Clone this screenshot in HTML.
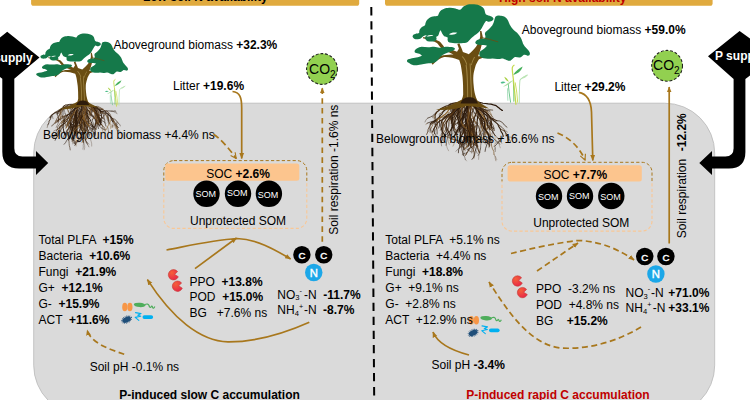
<!DOCTYPE html>
<html><head><meta charset="utf-8"><title>P supply diagram</title>
<style>
html,body{margin:0;padding:0;background:#fff;}
body{width:750px;height:400px;overflow:hidden;}
svg{display:block;}
text{font-family:'Liberation Sans',sans-serif; white-space:pre;}
</style></head><body>
<svg width="750" height="400" viewBox="0 0 750 400">
<defs>
<marker id="ah" viewBox="0 0 10 10" refX="9" refY="5" markerWidth="6" markerHeight="6" orient="auto-start-reverse" markerUnits="userSpaceOnUse"><path d="M0 1 L10 5 L0 9 z" fill="#A8771C"/></marker>
<marker id="aho" viewBox="0 0 10 10" refX="9" refY="5" markerWidth="7" markerHeight="7" orient="auto-start-reverse" markerUnits="userSpaceOnUse"><path d="M1 1 L9 5 L1 9" fill="none" stroke="#A8771C" stroke-width="1.6"/></marker>
<radialGradient id="pac" cx="35%" cy="30%" r="80%"><stop offset="0" stop-color="#F5603A"/><stop offset="1" stop-color="#E6234A"/></radialGradient>
<clipPath id="cT"><rect x="0" y="0" width="750" height="181.5"/></clipPath>
<clipPath id="cB"><rect x="0" y="181.5" width="750" height="221"/></clipPath>

<g id="tree">
<path fill="#6A4D12" d="M222 400 C234 392 240 381 241 368 L240.5 335 C240 318 239 308 238 300 C236 285 234 272 232 262 C230 254 228 249 226 244 C206 236 186 232 167 233.5 C156 236 148 242 141 247.5 L127 261 L123 255 L137 241 C146 233 156 228 167 227 C180 225 194 224 205 224 C192 218 178 213 165 207 C157 200 151 192 146 185 C140 180 132 176 124 174 L91 165.5 L92 161 L126 167 C136 170 146 173 153 177 C160 183 165 190 170 197 C186 202 202 208 218 214 C220 210 223 206 225 203 C223 197 221 191 219 186 L227 183 C229 189 232 195 234 200 C236 205 238 210 240 215 C246 217 254 220 261.5 223 C272 214 282 205 289.5 195 C297 184 302 172 304.5 160 L304 139 L309 139 L314 160 C314 172 312 184 308.4 195 C305 208 301 220 296.5 230 L317.5 229 L322 233 L300 241 C295 248 291 256 288 262 C284 275 280 288 279 300 C278 312 279 324 280 335 C281 348 283 360 286 370 C289 383 295 393 303 400 Z"/>
<path fill="#A08646" d="M250 262 C254 290 256 330 256 385 L259.5 385 C260 330 258 290 254 262 Z M265 256 C267 296 269 340 271 385 L274 385 C273 340 271 296 268.5 256Z M236 232 C244 240 250 250 253 262 L256 260 C253 248 247 238 239 230Z M282 232 C276 242 272 252 270 262 L273 263 C275 253 279 243 285 234Z"/>
<path fill="#2E1C0C" d="M231 400 C235 385 250 378 264 378 C279 378 291 385 296 400 Z"/>
<path fill="#15794A" d="M52 158 C54 152 58 151 62 150 C68 148 74 150 77 146 C76 138 80 132 84 128 C90 122 96 122 99 118 C100 108 104 100 110 96 C116 90 122 88 128 87 C136 85 142 86 147 84 C150 76 154 68 160 64 C168 58 176 56 184 56 C194 55 204 56 212 58 C220 60 226 64 232 62 C236 56 242 50 248 48 C258 43 266 42 274 43 C284 43 294 44 302 47 C310 50 316 54 319 60 C322 66 322 74 326 80 C332 84 338 83 344 86 C350 88 355 92 354 97 C352 103 344 106 336 106 C332 105 328 102 326 103 C322 108 318 114 315 120 C312 126 308 132 305 137 C300 144 292 150 284 155 C278 160 274 163 270 166 C266 170 262 175 258 179 C250 183 242 183 235 183 C226 184 218 183 210 183 C200 183 190 182 185 178 C182 172 182 168 184 164 C180 160 174 160 170 158 C165 154 161 146 157 137 C153 140 151 148 149 154 C147 158 143 159 140 161 C143 166 142 172 138 174 C130 178 118 178 108 176 C102 174 98 168 99 162 C100 158 104 156 106 155 C100 155 96 156 92 158 C88 162 82 167 77 168 C70 169 64 169 60 168 C56 166 52 162 52 158 Z"/>
<path fill="#15794A" d="M361 88 C366 84 372 83 378 84 C384 84 390 85 394 87 C400 90 404 94 406 98 C410 104 412 110 414 115 C418 122 422 128 426 132 C432 138 438 142 442 146 C448 152 452 158 456 164 C460 172 462 178 464 184 C468 192 474 198 478 202 C484 208 490 214 490 220 C490 226 486 229 481 228 C476 226 470 224 466 226 C462 230 458 234 452 235 C446 236 440 232 434 233 C428 236 424 243 417 246 C410 248 404 244 399 242 C394 240 390 238 385 238 C379 239 374 241 368 240 C362 239 356 238 350 238 C344 238 338 240 332 239 C322 238 310 237 304 231 C299 224 300 216 306 211 C314 206 324 200 330 192 C322 190 312 190 304 190 C296 190 288 188 286 182 C286 176 292 172 298 170 C306 167 314 166 320 166 C326 164 324 156 322 151 C322 146 324 142 328 140 C334 136 338 132 342 128 C348 122 352 116 354 110 C357 104 358 94 361 88 Z"/>
<path fill="#15794A" d="M60 210 C62 206 64 204 68 202 C74 198 80 196 86 196 C94 196 102 198 110 198 C118 198 124 196 132 196 C140 196 146 199 152 200 C160 200 168 196 176 196 C186 196 196 197 203 198 C208 200 211 202 210 205 C204 212 192 214 182 218 C176 221 170 223 164 226 C158 230 154 235 150 239 C146 246 140 250 133 253 C124 256 114 256 105 256 C98 257 90 259 84 260 C76 262 70 263 63 263 C54 262 46 260 42 256 C36 252 30 250 31 246 C33 241 38 240 44 239 C52 238 60 236 66 235 C74 233 82 231 87 228 C84 224 80 222 77 221 C72 220 66 220 63 218 C60 216 59 213 60 210 Z"/>
<path fill="#fff" d="M188 151 C196 145 208 143 219 146 C212 152 199 155 188 151Z M104 158 C112 154 122 153 130 155 C124 158 112 160 104 158Z"/>
<path fill="none" stroke="#6A4D12" stroke-width="3" stroke-linecap="round" d="M311 163 C330 167 350 172 370 178"/>
</g>
<g id="sprout" fill="none" stroke-linecap="round">
<path d="M105 335 C103 300 102 280 103 255" stroke="#9AD8B0" stroke-width="6"/>
<path d="M125 348 C118 310 112 270 108 222" stroke="#6CC78C" stroke-width="7"/>
<path d="M190 352 C190 300 190 250 195 198 C200 184 225 176 250 162" stroke="#B2DFAE" stroke-width="7"/>
<path d="M178 348 C176 310 170 260 160 215" stroke="#C8DC5A" stroke-width="7"/>
<path d="M150 342 C151 300 150 250 145 200" stroke="#5CBF60" stroke-width="7"/>
<path d="M165 362 C160 310 152 250 147 200 C143 165 136 125 138 112 C140 102 145 98 151 95" stroke="#C3D94C" stroke-width="9"/>
<path d="M145 160 C160 135 190 115 215 103 C205 135 175 155 145 160Z" fill="#45B05A" stroke="none"/>
<path d="M50 214 C60 205 75 205 88 212 C75 222 60 222 50 214Z" fill="#4DBD8A" stroke="none"/>
<path d="M78 174 C92 178 104 192 112 208 C96 204 84 190 78 174Z" fill="#A8D040" stroke="none"/>
<path d="M68 242 C90 225 115 208 142 198 C125 220 95 236 68 242Z" fill="#A9DDA0" stroke="none"/>
<path d="M205 185 C218 172 236 168 252 160 C244 178 224 188 205 185Z" fill="#BDE5B5" stroke="none"/>
</g>
</defs>

<path d="M31.1 0 H359.2 V3.2 Q359.2 5.75 356.7 5.75 H33.6 Q31.1 5.75 31.1 3.2 Z" fill="#E0AA3E"/>
<path d="M385 0 H712.6 V3.2 Q712.6 5.75 710.1 5.75 H387.5 Q385 5.75 385 3.2 Z" fill="#E0AA3E"/>
<text x="205.3" y="1.2" font-size="12" text-anchor="middle" fill="#000" font-weight="bold">Low soil N availability</text>
<text x="562.7" y="1.6" font-size="12" text-anchor="middle" fill="#C00000" font-weight="bold">High soil N availability</text>
<rect x="33.7" y="103.2" width="681" height="312" rx="50" ry="50" fill="#DADADA" stroke="#B9B9B9" stroke-width="0.8"/>
<use href="#sprout" transform="translate(100,70) scale(0.1)"/>
<use href="#sprout" transform="translate(493.8,51.4) scale(0.134,0.146)"/>
<g id="rootsL"><g fill="none" stroke-linecap="round" stroke-linejoin="round"><path d="M70.7 108.3L70.8 108.8L70.7 109.4L70.6 110.0M63.2 120.2L63.9 121.5L64.4 122.9L65.2 124.2M71.6 124.0L71.0 124.7L70.5 125.3L70.2 126.2M71.1 126.4L70.7 127.3L70.4 128.2L70.3 129.2M58.5 111.4L57.7 111.9L57.1 112.7L56.6 113.5M62.9 117.6L63.1 118.2L63.1 118.8L63.3 119.3M70.3 114.3L71.0 115.4L71.5 116.5L72.1 117.6M67.6 115.8L68.0 116.2L68.4 116.6L68.9 116.9M60.7 119.3L60.9 120.3L61.4 121.2L61.9 122.0M75.4 141.5L75.5 142.2L75.4 143.0L75.5 143.8M65.8 125.2L66.1 125.7L66.5 126.2L66.9 126.7M72.0 127.5L71.9 128.2L71.8 128.9L71.9 129.7M77.3 131.2L77.5 131.6L77.7 132.0L77.9 132.4M83.3 123.7L84.0 124.5L84.9 125.0L85.9 125.4M71.5 131.0L71.1 131.3L70.7 131.6L70.3 131.9M85.1 118.1L85.2 118.4L85.4 118.7L85.5 118.9M79.0 120.8L79.2 121.9L79.1 122.9L78.9 123.9M90.7 123.6L91.1 124.6L91.3 125.6L91.1 126.6M82.6 128.6L83.3 129.0L84.1 129.2L84.7 129.7M81.4 123.5L81.4 124.2L81.2 124.9L80.8 125.6M108.4 113.9L108.3 114.5L108.1 115.1L107.7 115.6M108.6 131.5L108.6 131.9L108.8 132.3L109.0 132.6M92.5 111.1L92.2 111.6L91.8 112.1L91.5 112.6M86.8 114.9L86.7 115.4L86.7 115.8L86.6 116.3M75.9 133.2L75.1 135.3L73.8 137.3L73.1 139.5L71.8 141.5M84.1 129.7L86.1 131.1L88.4 131.9L90.2 133.4L91.6 135.3L93.5 136.8" stroke="#34200E" stroke-width="0.3"/>
<path d="M71.3 104.8L70.9 106.5L70.7 108.3L70.0 109.9M73.4 119.6L72.7 121.9L71.6 124.0L71.1 126.4M64.1 108.6L64.5 110.9L65.0 113.3L66.1 115.4L67.6 117.3M52.2 114.4L52.5 115.7L52.6 117.2L53.0 118.5M73.2 113.7L71.5 115.2L70.4 117.2L69.9 119.5L70.1 121.7L69.7 124.0M55.4 122.9L54.2 123.7L52.9 124.4L52.1 125.5M69.8 131.3L69.2 132.0L68.8 132.7L68.8 133.6M71.0 119.5L71.5 120.4L72.1 121.1L73.0 121.7M72.0 124.7L72.1 126.1L72.0 127.5L72.1 128.8M77.5 113.7L76.9 114.8L76.6 116.1L76.1 117.2M81.6 117.1L81.8 117.8L81.9 118.5L82.2 119.1M79.0 122.1L78.8 124.3L78.0 126.3L77.1 128.3L75.7 130.0M80.2 120.2L81.7 121.7L82.7 123.5L83.7 125.4M80.4 116.9L79.4 118.8L79.0 120.8L79.0 123.0M82.1 111.7L81.7 112.6L81.4 113.6L81.4 114.7M89.9 127.6L91.0 128.7L91.6 130.2L92.4 131.6M82.0 130.6L82.5 131.7L83.0 132.7L83.7 133.7M85.8 122.5L87.2 124.4L88.8 126.1L89.6 128.3L90.5 130.4M85.6 140.7L86.6 141.8L87.2 143.0L87.7 144.4M78.4 140.1L76.8 140.9L75.5 142.2L74.6 143.8M81.4 115.2L81.9 115.8L82.4 116.3L82.9 116.9M73.0 137.1L73.3 138.0L73.6 138.9L73.9 139.8M94.0 127.0L94.7 128.0L95.5 128.7L96.4 129.3M92.5 129.4L92.9 130.9L93.3 132.4L93.6 133.9M99.9 120.3L100.6 121.2L101.2 122.1L102.0 122.9M117.2 122.1L116.7 123.1L116.4 124.2L115.8 125.2M118.7 123.4L119.5 124.1L120.0 125.0L120.3 125.9M92.2 106.8L94.3 107.9L95.6 109.8L96.3 112.0M90.0 110.6L89.7 111.5L89.5 112.4L89.1 113.3M92.0 107.7L91.3 108.9L91.0 110.3L90.8 111.7M107.7 117.4L107.5 118.4L107.4 119.4L107.6 120.5M94.7 117.6L93.8 118.5L92.6 119.2L91.8 120.2" stroke="#2A180B" stroke-width="0.4"/>
<path d="M65.3 106.8L64.1 107.4L63.1 108.1L62.0 108.8M63.1 110.3L62.1 112.0L60.8 113.4L59.8 115.0M48.8 123.1L48.1 124.6L47.5 126.0L47.2 127.5M85.4 126.0L84.7 128.2L83.7 130.2L82.8 132.4M86.5 127.9L85.2 129.4L84.5 131.3L84.0 133.2M71.0 137.5L72.6 138.6L73.9 140.1L75.4 141.5M66.6 132.8L67.3 133.7L67.9 134.6L68.8 135.4M72.9 139.8L73.5 140.5L74.2 141.1L74.6 141.9M77.5 115.8L78.2 116.6L78.8 117.4L79.3 118.3M78.1 119.9L77.2 120.4L76.5 121.1L75.9 121.9M76.5 128.9L76.6 129.7L76.5 130.5L76.3 131.3M75.2 118.9L74.4 119.7L74.0 120.7L73.8 121.8M83.3 128.4L84.2 129.1L84.7 130.1L85.3 131.0M71.5 124.0L71.5 124.9L71.6 125.8L71.7 126.6M72.2 130.3L71.5 131.0L71.1 131.9L70.9 132.8M81.2 111.9L81.9 112.9L82.4 114.1L82.7 115.2M77.4 123.0L76.9 123.8L76.5 124.7L76.2 125.6M85.3 131.2L84.6 132.3L83.7 133.3L83.2 134.5M85.3 113.8L83.5 115.2L81.7 116.7L79.6 117.9L77.9 119.5M81.6 127.7L80.7 128.9L80.0 130.2L79.7 131.6M77.3 141.9L76.2 142.3L75.4 143.0L74.8 143.9M81.8 113.2L82.4 114.3L83.2 115.2L83.6 116.4M85.9 113.3L85.0 115.0L83.6 116.5L82.0 117.6M91.5 114.5L93.4 115.5L95.4 116.3L97.3 117.4M95.9 119.0L96.0 121.0L95.4 123.0L94.7 125.0M95.0 131.7L94.4 133.3L94.2 134.9L94.0 136.6M101.0 120.1L100.4 120.5L99.7 120.7L99.1 120.9M94.0 106.6L95.9 107.4L97.7 108.5L99.5 109.4L101.0 110.9M93.5 106.7L95.8 107.2L98.2 107.6L100.2 108.9M107.5 126.9L108.1 128.4L108.2 130.0L108.6 131.5M90.1 108.4L91.3 110.0L92.9 111.3L94.7 112.2M96.0 123.0L95.9 124.2L96.1 125.3L96.7 126.3M100.6 120.2L100.5 121.0L100.3 121.8L100.0 122.5" stroke="#3E2611" stroke-width="0.4"/>
<path d="M73.4 104.3L71.3 104.8L69.1 105.0L67.1 105.7L65.3 106.8L63.7 108.2M67.3 104.9L67.0 107.1L67.5 109.3L68.5 111.3L70.1 112.9M62.2 124.9L60.1 126.3L58.7 128.4L56.9 130.1M69.5 113.9L67.6 114.4L65.9 115.6L64.7 117.2L63.9 119.1L63.3 121.0M68.3 139.2L69.0 141.3L69.1 143.4L69.3 145.6L69.9 147.7L70.2 149.9M70.6 125.4L69.1 126.9L68.4 128.9L67.3 130.8L66.6 132.8L65.8 134.8M72.8 128.9L71.9 130.9L71.8 133.2L71.9 135.4L72.6 137.6L72.9 139.8M75.7 113.8L76.8 115.6L77.7 117.5L78.4 119.6M73.4 121.4L71.8 122.8L70.4 124.3L69.7 126.3L68.9 128.2L67.8 130.0M75.6 112.5L75.0 114.7L75.3 117.0L75.5 119.3L76.0 121.6L76.4 123.8M68.0 124.5L69.0 126.4L70.3 128.1L72.0 129.5M79.6 108.3L80.0 110.6L81.0 112.6L81.2 114.9L81.6 117.1M80.6 109.6L81.2 111.9L82.0 114.1L82.9 116.4L83.7 118.7M78.9 119.8L77.3 121.5L76.2 123.3L75.7 125.5L76.0 127.7L76.9 129.7M76.9 123.6L77.3 125.6L77.1 127.7L76.9 129.7L77.3 131.7L78.0 133.7M83.1 106.0L84.7 107.4L85.9 109.2L86.6 111.2L86.9 113.4L87.5 115.4L87.8 117.6L87.6 119.7L86.9 121.8L86.8 123.9M81.2 118.2L81.2 120.4L80.9 122.7L81.2 125.0L80.8 127.2L81.1 129.5M82.8 117.6L83.3 119.7L83.8 121.9L84.9 123.8L86.2 125.5L87.2 127.5L87.5 129.7M87.8 116.4L86.7 118.3L85.5 120.1L83.9 121.6L82.8 123.5L81.9 125.5M110.7 117.4L112.5 118.4L114.4 119.1L116.1 120.3L117.2 122.1L118.7 123.4M91.0 105.1L92.2 106.8L93.1 108.6L94.5 110.1L95.7 111.7L96.4 113.5L97.3 115.4L98.7 116.8L100.2 118.2M99.9 122.6L101.4 124.2L102.4 126.1L103.2 128.2M91.0 105.8L92.0 107.7L93.5 109.2L95.3 110.3L96.7 111.9L98.0 113.7L98.9 115.6" stroke="#3E2611" stroke-width="0.6"/>
<path d="M68.2 111.4L68.3 111.9L68.4 112.4L68.6 112.9M65.0 113.3L65.8 114.8L66.4 116.3L67.0 117.9M57.3 120.2L57.3 120.9L57.4 121.5L57.6 122.2M85.2 129.4L84.2 130.0L83.2 130.4L82.1 130.7M73.1 142.9L72.9 143.2L72.8 143.5L72.7 143.9M75.3 113.5L74.9 113.9L74.4 114.3L73.9 114.6M75.3 115.3L75.7 115.6L76.0 115.9L76.4 116.1M67.9 134.6L67.9 135.1L67.9 135.6L67.9 136.1M75.9 121.9L76.1 122.3L76.3 122.6L76.5 123.0M77.1 117.6L77.5 118.0L77.8 118.5L78.1 119.0M84.2 129.1L84.0 129.5L83.7 129.8L83.4 130.1M89.1 111.1L89.4 111.9L89.5 112.8L89.5 113.8M71.1 131.9L71.2 132.2L71.2 132.5L71.2 132.8M73.8 130.8L73.6 131.8L73.5 132.7L73.3 133.6M83.7 125.4L83.9 126.0L83.9 126.7L83.7 127.4M76.5 124.7L76.3 124.8L76.1 125.0L75.9 125.2M89.6 128.3L89.1 129.7L88.5 131.0L87.8 132.3M86.6 117.9L87.3 118.9L88.1 119.8L89.1 120.6M87.6 124.4L88.0 125.3L88.1 126.3L88.2 127.3M82.4 114.3L82.3 114.9L82.3 115.5L82.4 116.1M73.9 139.8L74.0 140.0L74.1 140.3L74.1 140.6M97.4 122.6L97.1 122.7L96.7 122.8L96.3 123.0M92.9 130.9L93.2 131.4L93.5 131.8L93.6 132.2M93.3 132.4L93.2 133.2L93.2 133.9L93.3 134.7M101.1 113.7L101.1 114.1L101.2 114.6L101.4 115.0M99.5 109.4L99.7 110.5L99.9 111.5L100.2 112.4M92.1 109.8L92.4 110.5L92.5 111.2L92.6 112.0M89.7 111.5L89.8 111.9L89.9 112.4L90.0 112.9M99.0 116.8L99.0 117.4L99.0 118.0L98.9 118.6M67.1 121.4L68.6 123.1L69.4 125.3L69.7 127.6L70.4 129.7M93.1 127.4L91.3 128.9L89.4 130.0L87.7 131.6L86.4 133.5M83.6 141.2L83.7 143.2L83.2 145.1L83.3 147.1L82.9 149.1M83.9 125.9L83.9 127.9L83.6 130.0L82.9 131.9L81.6 133.5" stroke="#2A180B" stroke-width="0.3"/>
<path d="M67.5 109.3L68.0 110.3L68.2 111.4L68.6 112.5M60.1 111.0L60.3 111.6L60.7 112.2L60.8 112.8M67.6 114.4L67.6 115.8L67.1 117.2L66.6 118.5M62.1 121.2L62.0 122.8L61.7 124.5L62.1 126.1M75.7 126.7L76.0 127.8L76.4 128.7L76.6 129.7M84.9 109.2L87.2 109.6L89.1 111.1L90.3 113.0M81.2 114.9L81.0 116.0L81.0 117.2L81.3 118.3M75.9 125.1L73.9 126.3L72.4 128.1L70.5 129.6M81.4 122.3L81.8 123.2L82.5 124.0L83.3 124.7M101.3 127.9L102.4 129.4L102.8 131.2L103.6 132.9M104.9 129.9L105.0 131.2L105.0 132.4L105.1 133.6M79.2 131.0L78.4 132.2L77.7 133.5L76.8 134.6M95.0 108.1L94.8 109.2L94.3 110.2L93.7 111.0M116.4 125.7L116.9 126.8L117.1 128.0L117.0 129.3M108.9 121.8L110.2 123.6L111.7 125.3L112.7 127.4M109.7 123.3L110.1 125.1L110.6 126.9L110.7 128.7M117.0 126.0L117.1 126.8L117.1 127.5L116.8 128.2" stroke="#8C6229" stroke-width="0.4"/>
<path d="M65.3 105.1L63.8 107.3L61.8 109.0L60.0 111.0M69.5 115.1L70.8 116.6L72.4 117.9L73.4 119.6L74.1 121.5L74.9 123.4L76.1 125.1L77.1 126.8M60.4 126.1L59.6 128.2L58.8 130.3L58.2 132.5L57.5 134.6L57.1 136.8M70.5 117.0L68.9 118.3L67.0 119.3L65.3 120.5L63.6 121.8L61.8 122.8M69.9 123.1L70.7 125.5L71.9 127.7L72.5 130.2M79.7 105.4L81.2 106.9L83.0 108.2L84.9 109.2L86.8 110.2L88.8 111.2L90.5 112.6L92.2 113.9M74.6 111.3L74.6 113.5L74.2 115.7L74.5 117.9L74.6 120.1L75.4 122.1M72.5 127.3L73.7 129.0L75.3 130.3L77.0 131.4L78.7 132.5L80.5 133.5L81.7 135.2M79.5 117.8L80.2 120.2L80.3 122.7L79.4 125.1L79.3 127.5M82.1 117.5L83.4 119.4L83.9 121.7L83.7 124.0L83.5 126.3L82.6 128.4L82.0 130.6M84.0 107.9L84.5 109.8L85.2 111.8L85.3 113.8L86.1 115.7L86.9 117.6L87.8 119.4L88.7 121.3L89.7 123.0L91.1 124.5M79.5 123.9L80.4 125.9L81.6 127.7L82.6 129.6L83.0 131.7L84.0 133.6M87.9 103.9L88.2 105.9L88.9 107.8L89.3 109.7L89.2 111.7L89.4 113.7L88.9 115.7L88.7 117.7L88.8 119.7L89.3 121.6M111.3 119.4L110.4 121.3L109.7 123.3L108.5 125.0L107.5 126.9L106.7 128.9L105.4 130.5M92.4 106.6L91.3 108.7L90.0 110.6L88.5 112.4L86.7 113.9" stroke="#8C6229" stroke-width="0.6"/>
<path d="M63.5 106.2L63.7 108.3L63.1 110.3L63.0 112.4L63.0 114.5L62.3 116.6M57.1 113.9L58.0 116.2L58.4 118.6L58.5 121.0M68.8 117.1L67.2 118.8L65.6 120.7L63.6 122.1L61.7 123.5M76.0 105.8L75.6 107.9L75.0 109.9L73.9 111.7L72.6 113.4L72.1 115.5L71.3 117.4L70.3 119.2L68.8 120.7M51.4 115.6L50.9 117.5L50.3 119.5L49.2 121.1L48.8 123.1L47.8 124.9M74.0 109.5L73.6 111.6L73.2 113.7L72.2 115.6L71.1 117.4L69.9 119.2L69.2 121.3L68.0 123.0L66.7 124.8L65.2 126.3M63.1 126.5L62.1 128.3L60.8 129.8L60.0 131.7L59.2 133.6L58.4 135.4L57.1 136.9L55.8 138.6L55.1 140.4M63.6 130.7L64.4 132.5L64.5 134.5L63.9 136.5L63.9 138.5M77.7 106.4L78.0 108.5L78.6 110.6L79.7 112.4L80.3 114.5L81.0 116.5L81.6 118.6L82.8 120.4L84.0 122.2L84.7 124.2L84.9 126.4M77.0 110.4L77.7 112.4L78.8 114.2L80.0 116.0L80.4 118.1L81.1 120.1L82.1 122.0L83.6 123.5L84.8 125.3M76.8 114.4L78.2 116.0L79.9 117.4L81.7 118.5L83.1 120.1L84.4 121.9L84.8 124.0L85.4 126.0L86.5 127.9L87.9 129.5L89.0 131.3M71.2 133.7L70.2 135.6L68.7 137.1L67.8 139.1L66.5 140.8L65.5 142.7L64.1 144.3M72.7 111.2L73.0 113.3L73.6 115.3L74.0 117.3L74.8 119.2L75.0 121.3M76.3 120.1L75.8 122.3L75.9 124.6L76.6 126.7L76.5 128.9M77.2 122.0L78.2 123.4L79.4 124.6L80.1 126.2M77.0 110.0L76.5 112.2L75.5 114.3L75.3 116.6L75.2 118.9L74.6 121.1M75.6 113.7L76.4 115.7L76.9 117.7L77.9 119.5L78.6 121.5L79.7 123.3L81.0 124.9L82.4 126.5L83.3 128.4M72.4 114.9L72.0 117.2L71.6 119.4L71.6 121.7L71.5 124.0L72.0 126.2M73.3 125.4L72.4 127.8L72.2 130.3L72.7 132.7M75.5 132.0L74.1 134.0L73.4 136.3L72.2 138.4M82.7 119.5L84.1 121.2L85.8 122.5L87.8 123.4L89.4 124.9L91.2 126.1L92.4 128.0L93.6 129.8M85.3 111.8L87.1 112.8L88.6 114.3L90.4 115.3L92.3 116.2L94.3 116.9L95.8 118.4L96.6 120.3L97.2 122.3M81.9 137.3L80.0 138.4L78.4 140.1L77.3 141.9L75.9 143.7L74.8 145.6M83.8 109.6L84.1 111.8L84.7 113.9L85.1 116.1L84.9 118.3L84.7 120.5M85.7 120.9L86.4 122.8L87.4 124.5L88.6 126.2L90.0 127.6L91.7 128.7M89.1 111.2L90.1 113.0L91.5 114.5L93.0 115.9L94.2 117.6L95.0 119.5L95.6 121.4M96.5 121.1L97.7 123.4L98.0 126.0L98.4 128.6M97.3 123.0L98.5 124.7L99.8 126.4L101.3 127.9L103.0 129.1L104.9 129.9M85.2 108.7L83.2 110.2L81.1 111.4L78.8 112.5M92.2 125.0L93.4 127.1L94.6 129.3L95.0 131.7L95.4 134.1M75.3 129.8L76.4 131.9L77.3 134.1L77.9 136.4L79.0 138.5M88.3 122.3L90.1 124.1L92.1 125.5L94.0 127.0L95.4 129.1M92.6 108.0L91.8 110.3L91.4 112.7L91.1 115.2M96.3 117.7L95.9 119.8L96.2 121.8L95.8 123.9L95.0 125.8L94.0 127.6M96.5 119.8L96.3 121.9L95.5 123.9L94.9 125.9L93.8 127.8L92.5 129.4M91.4 106.2L93.1 107.4L95.0 108.1L96.6 109.4L97.8 111.1L98.9 112.7M98.9 109.2L100.7 110.4L102.0 112.1L103.0 114.0L103.7 116.0L104.1 118.0L104.8 120.1L104.7 122.2L105.3 124.2L106.0 126.2M111.9 117.9L113.4 119.6L114.3 121.7L115.6 123.5L116.4 125.7L117.1 127.8L117.1 130.0M102.5 111.6L104.6 111.3L106.7 110.9L108.9 110.9L111.0 111.1L113.2 111.2L115.3 111.0M112.3 121.2L113.6 123.1L115.1 124.8L117.0 126.0L118.5 127.7M96.9 113.4L98.0 115.3L99.2 117.1L100.2 118.9L100.5 121.1L100.1 123.2L99.4 125.2M97.6 115.0L98.8 116.6L99.8 118.4L100.6 120.2L100.7 122.2" stroke="#2A180B" stroke-width="0.6"/>
<path d="M60.8 109.2L60.1 111.0L59.0 112.6L57.8 114.1M70.2 113.0L68.4 114.3L66.5 115.5L64.5 116.3L62.9 117.8L61.0 119.0L58.9 119.7L57.1 121.0M62.1 109.1L60.0 109.9L57.9 110.8L56.0 112.1L54.2 113.4L52.2 114.4L50.5 115.9L49.6 117.9M76.5 116.4L76.0 118.5L75.8 120.5L76.0 122.6L76.2 124.7L76.3 126.8M74.3 126.2L72.3 127.0L70.2 127.5L68.3 128.5L66.9 130.1L66.2 132.1M70.3 135.6L71.0 137.5L72.2 139.2L73.5 140.8L74.6 142.6L75.5 144.5M70.3 123.4L72.0 124.7L73.8 125.9L75.7 126.7L77.0 128.4M78.8 106.2L77.3 108.2L76.5 110.5L75.0 112.5M88.0 132.2L86.6 134.0L85.8 136.2L85.2 138.4L85.6 140.7L86.5 142.9M84.1 107.6L82.8 109.3L81.3 110.7L80.4 112.6L79.7 114.6L78.8 116.5L78.1 118.4M87.7 109.6L86.9 111.5L85.9 113.3L84.9 115.1L83.6 116.6L82.8 118.5L81.9 120.4L81.4 122.3M79.3 125.0L77.7 126.2L76.5 127.8L75.8 129.7L75.5 131.7L75.0 133.6L73.9 135.3L73.0 137.1M88.7 120.3L87.2 121.8L85.5 123.1L83.7 124.1L82.5 125.8L80.8 127.2L79.8 129.0L79.2 131.0M97.1 108.6L96.4 110.8L95.9 113.0L95.7 115.2L96.2 117.4M100.5 111.0L102.4 111.9L104.0 113.3L105.9 114.2L107.3 115.7L108.0 117.7L108.6 119.7L108.9 121.8L108.8 123.9M108.2 114.1L108.1 116.1L108.2 118.1L108.5 120.1L108.2 122.1M98.3 118.3L100.2 119.3L101.9 120.7L103.9 121.5L105.5 123.1M93.9 107.9L95.2 109.6L96.8 111.0L98.2 112.5L99.4 114.3" stroke="#34200E" stroke-width="0.6"/>
<path d="M77.4 104.6L75.4 104.4L73.4 104.3L71.3 104.3L69.3 104.4L67.3 104.9L65.3 105.1L63.5 106.2L62.2 107.7L60.8 109.2L59.2 110.4L58.2 112.2L57.1 113.9M78.0 105.2L76.0 105.8L74.0 106.4L72.0 106.9L69.9 107.0L67.8 107.0L65.7 107.0L63.7 107.7L62.1 109.1L60.3 110.2L58.6 111.5L56.7 112.4L54.7 113.0L53.0 114.2L51.4 115.6L50.5 117.5M80.4 105.1L78.9 106.4L78.1 108.3L77.0 110.0L76.5 111.9L75.6 113.7L74.9 115.6L74.6 117.6L73.8 119.5L73.4 121.4L73.5 123.4L74.0 125.4L73.9 127.4L74.4 129.3L74.5 131.3L74.8 133.3M81.2 104.5L80.3 106.4L79.6 108.3L78.8 110.2L77.8 112.1L76.7 113.8L75.3 115.4L74.3 117.2L74.0 119.2L73.7 121.3L73.5 123.3L73.3 125.4L72.5 127.3L72.1 129.3L72.1 131.4L71.7 133.4M81.6 105.4L81.2 107.5L80.6 109.6L79.6 111.5L79.4 113.6L79.7 115.7L79.5 117.8L78.9 119.8L77.7 121.6L76.9 123.6L76.4 125.7L76.1 127.8L75.9 129.9L75.5 132.0L74.8 134.0M84.9 104.9L85.8 106.7L86.8 108.4L87.1 110.4L87.3 112.5L87.8 114.4L87.8 116.4L88.4 118.3L88.7 120.3L88.3 122.3L88.3 124.3L87.7 126.3L87.4 128.3L86.6 130.1L85.6 131.9L84.5 133.6" stroke="#34200E" stroke-width="0.9"/>
<path d="M66.5 115.5L64.3 116.0L62.1 116.5L60.2 117.6M62.9 117.8L63.2 120.2L63.9 122.5L65.2 124.4M67.2 118.8L65.6 119.5L64.0 119.9L62.5 120.8M60.1 119.1L58.9 120.1L57.9 121.0L56.6 121.8M64.7 117.2L64.8 118.9L65.3 120.4L65.5 122.1M65.3 120.5L65.6 122.0L65.7 123.6L65.8 125.2M72.7 132.7L73.2 133.6L73.8 134.4L74.1 135.3M73.7 129.0L73.8 130.8L74.1 132.6L74.3 134.5M75.3 130.3L77.5 131.1L79.7 131.5L81.6 132.8M83.7 118.7L84.1 119.7L84.2 120.8L84.7 121.8M86.9 117.6L88.1 119.7L89.7 121.5L90.7 123.6L92.3 125.4M81.2 125.0L82.0 125.9L82.7 126.8L83.0 128.0M84.1 111.8L85.8 113.0L87.2 114.6L87.9 116.5M99.1 120.2L98.4 121.5L97.4 122.6L96.3 123.4M115.1 125.9L115.5 126.4L115.9 126.9L116.4 127.3M102.9 109.1L102.4 110.6L102.1 112.1L102.4 113.6M95.9 113.0L96.3 114.0L96.7 115.0L97.2 116.0M108.2 118.1L108.5 118.9L108.9 119.8L109.1 120.6M91.3 108.7L92.1 109.8L92.5 111.1L92.4 112.4M106.4 115.6L106.5 116.9L106.9 118.0L107.1 119.2M98.2 115.3L96.9 115.8L95.5 116.3L94.1 116.6" stroke="#7A5426" stroke-width="0.4"/>
<path d="M64.5 116.3L64.0 117.9L64.1 119.6L64.2 121.3M74.9 123.4L75.9 124.9L77.1 126.2L78.5 127.3M59.6 128.2L57.8 129.4L55.7 130.1L53.8 131.0M58.3 122.0L57.9 123.9L57.0 125.7L56.2 127.5M70.8 114.1L72.1 116.4L72.7 119.0L73.4 121.6M70.2 135.6L69.9 137.0L69.4 138.4L69.1 139.8M72.2 139.2L72.2 140.5L72.6 141.7L73.1 142.9M74.3 110.2L75.2 111.7L75.3 113.5L75.3 115.3M77.0 128.4L77.2 129.3L77.3 130.3L77.3 131.2M77.9 119.5L80.1 120.4L81.9 121.9L83.3 123.7M75.3 117.0L74.6 118.3L73.8 119.5L73.3 120.9M77.0 131.4L78.6 132.4L79.9 133.6L81.1 135.0M84.5 120.7L84.3 122.4L84.6 124.1L85.5 125.7M75.7 125.5L76.1 127.3L76.3 129.1L76.6 130.8M83.9 121.7L85.3 123.4L86.1 125.4L87.5 127.2M86.1 115.7L86.6 117.9L87.1 120.1L87.7 122.2L87.6 124.4M86.5 142.9L87.3 144.2L88.2 145.5L88.9 146.9M80.4 125.9L81.4 127.3L82.6 128.6L83.6 130.0M84.7 113.9L86.0 115.3L86.7 117.0L87.2 118.8M84.9 118.3L84.7 119.9L84.1 121.5L83.6 123.1M81.9 120.4L81.4 121.6L81.1 122.8L81.3 124.1M76.4 131.9L76.1 133.1L75.9 134.3L75.5 135.4M83.9 121.6L82.8 122.7L81.4 123.5L80.4 124.7M80.8 127.2L78.8 127.8L77.3 129.4L76.0 131.1M95.8 123.9L95.9 125.0L95.8 126.1L95.9 127.2M97.8 111.1L98.7 112.1L99.8 113.0L101.1 113.7M114.8 123.6L114.4 124.4L114.1 125.2L113.9 126.0M111.0 111.1L112.5 111.2L114.0 111.8L115.3 112.6M115.3 111.0L116.0 111.9L116.3 112.9L117.0 113.8M99.2 117.1L100.2 119.1L100.7 121.3L101.0 123.5M97.3 115.4L97.5 117.0L98.1 118.5L98.9 119.9M100.2 118.2L99.8 119.2L99.5 120.4L99.1 121.5M86.7 113.9L86.8 114.9L86.6 115.9L86.7 116.8" stroke="#34200E" stroke-width="0.4"/>
<path d="M63.9 122.5L63.8 123.5L63.9 124.6L64.0 125.6M52.1 125.5L52.0 126.0L51.8 126.4L51.5 126.7M69.4 138.4L68.9 138.8L68.4 139.2L67.7 139.4M76.0 127.8L75.6 128.1L75.4 128.5L75.1 128.9M77.2 120.4L77.4 120.8L77.7 121.2L77.9 121.7M86.7 117.0L87.0 117.4L87.1 117.9L87.3 118.4M84.1 121.5L83.8 122.1L83.4 122.6L83.0 123.2M82.4 116.3L82.3 116.6L82.3 117.0L82.4 117.3M82.9 116.9L82.8 117.2L82.7 117.5L82.6 117.8M95.4 116.3L96.0 116.4L96.5 116.7L96.9 117.1M116.7 123.1L117.0 123.7L117.3 124.2L117.5 124.8M100.0 122.5L100.0 122.8L100.0 123.0L100.1 123.3M89.3 135.1L89.8 137.3L90.5 139.5L91.2 141.6L91.7 143.8L91.7 146.1M85.7 139.5L86.4 141.3L87.6 142.9L89.1 144.1M82.7 139.3L83.3 141.4L84.0 143.5L84.6 145.6L84.7 147.7L84.2 149.8M83.6 123.8L82.1 126.0L81.2 128.4L79.7 130.6" stroke="#3E2611" stroke-width="0.3"/>
<path d="M57.1 121.0L55.8 122.6L54.4 124.0L52.8 125.2M60.8 113.0L61.5 114.6L61.9 116.2L62.9 117.6M69.9 119.2L68.9 120.7L68.0 122.2L67.1 123.7M63.6 116.3L62.3 117.9L60.7 119.3L59.6 121.1M62.1 126.0L61.5 127.8L61.0 129.7L60.9 131.6M76.0 118.5L75.6 119.7L75.4 121.0L75.0 122.2M82.9 122.0L82.6 123.3L82.1 124.6L81.3 125.7M67.3 130.8L66.8 132.4L66.1 133.8L65.9 135.5M76.8 115.6L77.0 116.6L77.1 117.6L76.9 118.6M76.5 112.2L76.7 114.2L76.8 116.2L77.4 118.1M79.7 115.9L79.8 117.9L80.1 119.9L80.3 121.9L80.1 123.9L80.3 125.9M82.9 116.4L83.7 116.9L84.3 117.6L85.1 118.1M82.2 116.0L82.6 117.0L83.1 118.0L83.9 118.7M81.7 129.7L82.7 131.2L83.4 132.9L84.5 134.3M93.1 107.4L93.8 109.2L94.4 111.1L94.7 113.1M113.1 121.7L113.1 123.6L112.6 125.5L111.6 127.1" stroke="#5C3B18" stroke-width="0.4"/>
<path d="M62.5 120.8L62.2 121.4L62.0 122.0L62.1 122.7M73.4 121.6L73.7 122.3L74.0 123.1L74.3 123.8M73.8 119.5L73.6 119.9L73.5 120.3L73.3 120.6M91.6 130.2L91.4 130.7L91.2 131.2L91.2 131.8M94.7 128.0L95.0 128.4L95.3 128.8L95.7 129.1M116.8 128.2L116.9 128.6L117.1 128.9L117.2 129.2M95.5 116.3L95.4 116.8L95.2 117.3L94.9 117.7M80.5 133.6L79.7 135.9L78.4 137.9L77.9 140.3" stroke="#8C6229" stroke-width="0.3"/>
<path d="M56.5 133.6L56.3 134.5L56.1 135.5L56.0 136.4M66.1 133.8L65.8 134.2L65.5 134.6L65.3 135.0M65.9 135.5L65.8 135.8L65.8 136.2L65.8 136.6M78.8 117.4L78.8 118.0L78.9 118.5L78.9 119.0M90.3 113.0L91.0 113.6L91.5 114.3L92.1 115.0M75.7 130.0L75.8 130.9L75.7 131.8L75.7 132.7M98.4 121.5L98.2 122.0L98.1 122.4L98.0 122.9M96.3 123.4L95.9 123.6L95.4 123.8L95.0 123.9M116.4 124.2L116.7 124.6L116.8 125.1L117.0 125.6" stroke="#5C3B18" stroke-width="0.3"/>
<path d="M54.8 134.6L54.7 135.1L54.7 135.7L54.7 136.2M53.7 136.3L54.1 136.9L54.6 137.5L55.0 138.1M60.9 131.6L61.3 132.1L61.5 132.8L61.7 133.4M69.1 139.8L68.8 140.3L68.5 140.8L68.1 141.2M65.7 123.6L65.9 124.0L66.1 124.4L66.2 124.9M79.7 131.6L79.2 131.8L78.7 132.1L78.4 132.5M75.5 142.2L74.9 142.6L74.2 142.8L73.5 142.9M87.9 116.5L87.3 117.1L86.7 117.6L86.1 118.2M83.6 123.1L83.7 123.5L83.6 124.0L83.5 124.4M85.0 115.0L85.0 115.8L85.1 116.6L85.2 117.4M95.9 127.2L95.8 127.7L95.7 128.2L95.5 128.7M112.6 125.5L112.7 126.2L112.5 126.8L112.3 127.4M98.1 118.5L98.1 118.9L98.1 119.4L98.2 119.9" stroke="#4A2E14" stroke-width="0.3"/>
<path d="M58.2 132.5L56.5 133.6L54.8 134.6L53.7 136.3M62.4 109.9L60.5 110.8L58.5 111.4L56.4 111.6L54.5 112.4L53.0 113.8M50.9 117.5L50.5 118.9L49.7 120.1L48.9 121.3M71.2 112.1L70.3 114.3L68.9 116.2L67.8 118.3M60.0 118.5L58.7 119.4L57.3 120.2L55.8 120.7M60.0 131.7L58.5 133.0L57.6 134.8L56.9 136.7M70.9 121.5L69.9 122.7L68.8 123.8L67.9 125.0M74.6 120.1L75.3 121.1L76.1 122.1L77.2 122.8M79.0 113.9L78.0 116.1L77.2 118.5L76.4 120.9M83.6 116.6L84.6 118.3L85.6 120.1L86.5 122.0M79.0 138.5L79.1 139.7L79.0 140.9L78.9 142.1M94.6 111.7L94.7 113.0L94.7 114.3L95.2 115.6M106.7 110.9L107.8 112.2L108.4 113.9L109.4 115.3M98.2 112.5L98.4 114.0L98.8 115.4L99.0 116.8" stroke="#4A2E14" stroke-width="0.4"/>
<path d="M77.8 103.2L76.0 104.3L74.7 106.0L73.2 107.6L71.9 109.2L70.8 111.0L70.2 113.0L69.5 115.1L68.8 117.1L68.0 119.0L67.0 120.9L65.6 122.5L64.0 123.9L62.2 124.9L60.4 126.1L59.4 128.0M80.5 103.5L79.7 105.4L78.5 107.1L77.4 108.8L76.6 110.7L75.6 112.5L74.9 114.4L74.8 116.5L74.7 118.5L75.0 120.6L75.2 122.6L75.7 124.6L75.6 126.7L74.8 128.6M83.9 104.7L85.0 106.4L86.5 107.9L87.7 109.6L89.1 111.2L89.9 113.1L90.8 115.0L92.2 116.6L93.9 117.8L95.4 119.3L96.5 121.1L97.3 123.0L98.5 124.8M85.9 103.9L87.8 104.7L89.8 105.0L91.4 106.2L93.1 107.4L94.9 108.3L96.9 108.9L98.9 109.2L101.0 109.3L102.9 109.8L104.8 110.7L106.0 112.3L107.3 113.9L108.8 115.3L110.5 116.4L111.9 117.9L112.8 119.7L113.7 121.6" stroke="#3E2611" stroke-width="0.9"/>
<path d="M65.7 107.0L64.1 108.6L62.4 109.9L61.1 111.6L60.2 113.6L59.4 115.6L58.6 117.6L58.4 119.8L58.3 122.0M67.8 115.1L65.8 115.8L63.6 116.3L61.6 117.1L60.0 118.5L58.8 120.3L57.2 121.7L55.4 122.9M64.3 120.3L62.1 121.2L60.5 122.9L59.2 124.8L57.8 126.7L57.4 128.9L56.5 131.1M63.3 124.4L62.1 126.0L60.6 127.4L59.8 129.3L58.5 130.9L57.2 132.4L56.2 134.1L54.8 135.7L53.3 137.0M76.2 106.2L76.5 108.4L77.1 110.5L77.8 112.5L79.2 114.3L80.5 116.0L81.4 118.0L81.8 120.1L82.9 122.0M77.7 104.8L76.8 106.7L75.6 108.4L74.3 110.2L73.6 112.1L72.5 113.9L71.5 115.8L70.5 117.7L69.7 119.7M74.6 117.6L73.0 118.8L71.5 120.1L69.8 121.2L67.9 121.9M77.8 112.1L79.0 113.9L79.7 115.9L80.2 118.0L79.9 120.1L79.0 122.1L77.5 123.7L75.9 125.1L74.3 126.6M81.9 106.4L82.4 108.6L82.9 110.8L84.1 112.8L85.7 114.4L87.2 116.1L88.6 117.9M73.9 123.4L74.7 125.3L75.0 127.3L75.4 129.3L75.7 131.2L75.5 133.2M84.0 123.4L84.9 125.2L85.5 127.2L85.7 129.2L85.3 131.2L84.9 133.3M82.6 133.4L83.1 135.7L83.0 138.0L83.1 140.4L83.6 142.7M87.8 104.7L88.9 106.3L90.4 107.7L92.1 108.6L93.6 110.0L94.6 111.7L95.7 113.4L97.0 114.9L98.7 115.9M104.8 110.7L106.8 111.1L108.5 112.3L109.9 113.9L110.8 115.9L111.7 117.8L112.3 119.8L113.1 121.7M106.0 112.3L105.0 114.4L103.8 116.4L102.6 118.4L101.0 120.1M93.4 106.7L95.6 106.5L97.8 106.4L99.7 107.3L101.6 108.4L103.2 109.8M98.4 123.5L97.3 125.3L96.7 127.3L95.9 129.3M90.4 106.4L91.9 108.0L93.7 109.3L95.8 110.1L97.9 110.8L100.1 111.2L101.9 112.4" stroke="#4A2E14" stroke-width="0.6"/>
<path d="M63.7 107.7L62.7 109.5L61.4 111.1L60.8 113.0L60.8 115.1L60.4 117.1L60.1 119.1M76.4 109.7L77.2 111.6L77.5 113.7L77.5 115.8L78.0 117.8L78.1 119.9M79.7 115.7L81.4 117.2L83.2 118.8L84.5 120.7L86.0 122.4L87.8 123.9L88.9 125.9M81.9 107.4L82.4 109.5L82.1 111.7L82.5 113.8L82.2 116.0M81.9 115.5L83.0 117.2L84.3 118.8L85.1 120.7L86.4 122.4L87.4 124.2L88.6 125.9L89.9 127.6M79.9 125.9L80.8 127.8L81.7 129.7L82.2 131.8L83.1 133.8L83.6 135.8L83.4 138.0L82.9 140.1L82.5 142.2M93.9 117.8L95.9 119.0L97.4 120.6L98.8 122.3L100.6 123.7L102.4 125.0M93.6 109.8L94.6 112.0L96.0 113.9L97.3 115.9L98.0 118.1L99.1 120.2M96.9 108.9L97.2 111.2L98.2 113.4L99.0 115.6L99.3 118.0L99.9 120.3M112.8 119.7L114.1 121.7L115.4 123.6L116.1 125.8L117.1 127.9L118.4 129.8L119.9 131.5M113.7 121.6L114.8 123.6L115.1 125.9L115.4 128.2M91.4 106.2L93.5 106.7L95.6 107.1L97.4 108.2L99.0 109.6L100.0 111.4L100.8 113.4M89.7 106.1L90.1 108.4L90.5 110.7L90.2 113.1L90.0 115.4L90.1 117.8M100.7 112.0L99.6 113.7L98.2 115.3L96.6 116.6L94.7 117.6L93.1 118.8" stroke="#7A5426" stroke-width="0.6"/>
<path d="M60.3 110.2L60.2 112.5L59.5 114.7L58.2 116.7L56.9 118.6L56.0 120.7L54.8 122.7M75.3 107.8L73.5 108.8L72.0 110.2L71.2 112.1L70.8 114.1L70.2 116.0L70.2 118.1L69.5 120.0L68.8 121.9L67.8 123.7L67.1 125.6L66.2 127.4M76.1 120.5L75.3 122.5L75.4 124.6L74.7 126.6L74.4 128.7L74.7 130.9M70.8 129.2L69.8 131.3L68.3 133.2L66.7 135.0M74.0 112.0L73.4 113.9L72.5 115.7L71.6 117.5L71.0 119.5L70.9 121.5L70.5 123.5M80.1 112.4L80.6 114.6L80.4 116.9L79.6 119.0L78.2 120.9L77.4 123.0M83.0 111.5L81.8 113.2L81.4 115.2L81.2 117.2L80.5 119.2M86.8 108.4L85.4 110.3L84.7 112.5L84.4 114.8L84.4 117.1M89.6 105.2L91.8 105.8L94.0 106.6L96.3 106.9L98.4 107.8L100.7 108.4L102.9 109.1M98.2 117.3L97.9 119.3L97.0 121.2L96.0 123.0L95.4 125.0M95.0 106.7L95.2 108.8L95.0 110.9L95.2 113.0L95.3 115.1L96.1 117.1L96.7 119.2L97.0 121.3M99.7 110.3L101.1 111.9L102.9 113.1L104.8 114.2L106.4 115.6L107.7 117.4M100.6 123.9L102.5 125.6L104.3 127.3L105.3 129.7" stroke="#5C3B18" stroke-width="0.6"/>
<path d="M70.4 117.2L69.3 117.6L68.0 117.7L66.8 117.9M72.2 140.5L72.6 141.0L72.8 141.6L73.0 142.1M87.7 122.2L87.4 123.0L86.9 123.8L86.2 124.4M83.2 115.2L83.5 115.4L83.8 115.5L84.1 115.6M81.9 115.8L81.8 116.1L81.7 116.4L81.5 116.7M79.1 139.7L79.0 140.1L79.0 140.5L78.9 140.8M78.4 132.2L78.4 133.0L78.3 133.8L78.0 134.6M77.7 133.5L77.2 134.0L77.0 134.6L76.8 135.2M68.8 127.5L68.5 129.3L68.1 131.1L68.3 133.0M87.9 136.8L86.2 138.2L84.6 139.8L82.8 141.1L81.2 142.6M75.0 137.1L75.3 139.4L76.1 141.6L76.6 143.9L76.2 146.2" stroke="#7A5426" stroke-width="0.3"/>
<path d="M78.5 105.1L76.9 106.5L75.3 107.8L74.0 109.5L72.3 110.8L71.1 112.5L69.5 113.9L67.8 115.1L66.5 116.8L65.3 118.5L64.3 120.3L64.0 122.4L63.3 124.4L63.1 126.5L63.4 128.6L63.6 130.7L64.1 132.7L64.8 134.7M79.0 104.8L77.7 106.4L77.0 108.3L77.0 110.4L76.5 112.4L76.8 114.4L76.5 116.4L76.5 118.5L76.1 120.5L75.9 122.5L75.4 124.5L74.3 126.2L73.2 127.9L72.5 129.8L71.7 131.8L71.2 133.7L70.3 135.6L69.3 137.4L68.3 139.2M79.3 103.4L77.6 104.7L76.2 106.2L75.4 108.1L74.0 109.6L72.7 111.2L71.7 113.0L71.1 115.0L70.5 117.0L70.0 119.0L69.8 121.0L69.9 123.1L70.6 125.1L70.8 127.1L70.8 129.2L71.2 131.2L72.2 133.0M79.4 103.7L77.7 104.8L76.4 106.4L75.2 108.1L74.8 110.1L74.0 112.0L73.4 113.9L72.6 115.8L71.7 117.6L70.6 119.3L70.2 121.4L70.3 123.4L70.6 125.4L71.6 127.2L72.8 128.9L73.7 130.7L74.9 132.4M79.9 104.4L78.8 106.2L77.4 107.8L76.4 109.7L76.2 111.8L75.7 113.8L75.7 115.9L75.8 118.1L76.3 120.1L77.2 122.0L77.5 124.1L77.2 126.2M82.0 104.3L81.9 106.4L81.8 108.5L81.2 110.6L80.1 112.4L79.1 114.3L78.6 116.4L77.5 118.2L76.1 119.8L75.3 121.8L73.9 123.4L72.3 124.8M82.3 105.3L81.9 107.4L81.9 109.4L82.1 111.4L82.3 113.5L81.9 115.5L82.1 117.5L82.7 119.5L83.3 121.4L84.0 123.4L84.4 125.4L84.4 127.4L85.0 129.4L85.1 131.4L84.5 133.4M83.0 104.7L83.2 106.7L83.8 108.7L83.8 110.7L83.6 112.7L83.1 114.7L82.4 116.6L81.2 118.2L80.4 120.0L79.6 121.9L79.5 123.9L79.9 125.9L80.8 127.7L81.6 129.5L82.5 131.3L82.6 133.4L82.1 135.3L81.9 137.3L82.3 139.3M84.1 104.8L84.9 106.7L85.2 108.7L86.0 110.5L86.1 112.5L86.7 114.5L87.7 116.2L88.9 117.8L90.1 119.3L90.8 121.2L91.7 123.0L92.2 125.0L92.7 126.9M86.0 103.2L87.9 103.9L89.6 105.2L91.4 106.2L93.4 106.7L95.5 107.3L97.1 108.6L98.7 110.0L100.5 111.0L102.5 111.6L104.5 112.2L106.3 113.3L108.2 114.1L109.8 115.5L110.7 117.4L111.3 119.4L112.3 121.2M86.9 104.2L88.5 105.5L90.4 106.4L92.1 107.6L93.4 109.2L94.2 111.1L95.1 113.0L96.3 114.7L97.4 116.4L98.3 118.3L98.9 120.2L100.0 122.0M87.2 103.9L89.1 104.5L91.0 105.1L92.4 106.6L93.9 107.9L95.0 109.6L96.3 111.2L96.9 113.1L97.6 115.0L98.4 116.8L99.2 118.7L99.3 120.7L99.9 122.6L101.0 124.3M87.4 104.1L89.2 104.9L91.0 105.8L93.0 106.2L95.0 106.7L96.9 107.4L98.4 108.7L99.7 110.3L100.7 112.0L101.2 114.0L101.6 115.9L101.4 118.0L100.9 119.9L101.1 121.9L100.6 123.9L99.8 125.7" stroke="#2A180B" stroke-width="0.9"/>
<path d="M80.8 105.5L79.4 107.1L77.9 108.6L76.1 109.8L74.6 111.3L73.8 113.3L72.4 114.9L71.1 116.5L70.3 118.5L70.0 120.7L69.0 122.6L68.0 124.5L67.1 126.4L65.9 128.2M83.3 103.7L84.0 105.6L84.1 107.6L83.8 109.6L83.0 111.5L82.8 113.5L83.2 115.5L83.6 117.4L84.4 119.3L85.7 120.9L86.6 122.6L87.9 124.2L89.5 125.4M84.3 103.9L85.0 105.8L85.3 107.9L85.1 109.9L85.4 112.0L84.9 114.0L83.9 115.8L82.8 117.6L81.8 119.4L81.3 121.4L80.5 123.3L79.3 125.0L77.9 126.6L76.6 128.1L75.3 129.8L73.8 131.2" stroke="#8C6229" stroke-width="0.9"/>
<path d="M82.5 104.0L83.1 106.0L84.0 107.9L84.8 109.8L85.3 111.8L86.0 113.8L86.3 115.9L85.9 117.9L86.0 120.0L86.3 122.0L86.1 124.1L86.3 126.2L86.8 128.2L87.3 130.2L88.0 132.2L88.4 134.2M86.5 103.4L88.1 104.8L89.7 106.1L91.2 107.6L92.6 109.1L93.7 110.8L95.3 112.1L96.9 113.4L97.9 115.3L98.2 117.3L98.4 119.4L98.4 121.4L98.4 123.5" stroke="#5C3B18" stroke-width="0.9"/>
<path d="M84.9 105.2L86.6 106.4L88.3 107.7L90.1 108.9L91.9 110.0L93.8 111.0L95.3 112.5L97.0 113.8L98.8 114.9L100.8 115.7L102.3 117.2L103.5 119.0" stroke="#4A2E14" stroke-width="0.9"/>
<path d="M85.5 103.6L87.4 104.5L89.3 105.5L91.1 106.5L92.6 108.0L93.6 109.8L94.0 111.9L95.0 113.7L95.3 115.8L96.3 117.7L96.5 119.8L96.8 121.8L96.6 123.9" stroke="#7A5426" stroke-width="0.9"/>
<path d="M67.0 119.3L67.1 121.4L67.8 123.4L68.2 125.5L68.8 127.5L69.4 129.5L69.4 131.6L69.4 133.7L70.0 135.7L71.1 137.6L71.8 139.6" stroke="#3E2611" stroke-width="0.5"/>
<path d="M92.4 118.9L92.5 121.1L93.3 123.1L93.5 125.3L93.1 127.4L92.5 129.5L91.5 131.4L90.1 133.1L89.3 135.1L87.9 136.8L86.5 138.4L85.4 140.3M76.4 116.2L76.4 118.2L77.1 120.1L78.1 121.9L79.5 123.3L81.0 124.6L81.9 126.4L82.9 128.2L84.1 129.7L85.0 131.6L85.6 133.5L85.8 135.5L85.7 137.5L85.7 139.5M98.2 117.1L97.3 119.1L96.6 121.2L95.9 123.2L95.7 125.4L95.1 127.4L95.1 129.6L95.4 131.7L95.5 133.9L95.3 136.0" stroke="#34200E" stroke-width="0.5"/>
<path d="M77.0 119.4L76.5 121.4L76.2 123.3L75.8 125.3L75.5 127.3L75.1 129.2L75.4 131.2L75.9 133.2L75.6 135.2L75.0 137.1L74.3 138.9L73.1 140.5M81.0 115.5L81.0 117.5L81.3 119.6L81.6 121.6L81.6 123.6L81.0 125.6L80.7 127.6L80.0 129.6L80.0 131.6L80.5 133.6L81.3 135.5L82.3 137.3L82.7 139.3L83.6 141.2" stroke="#2A180B" stroke-width="0.5"/>
<path d="M84.8 115.7L84.6 117.8L84.1 119.8L83.8 121.8L83.6 123.8L83.9 125.9L83.7 127.9L84.2 129.9L84.9 131.8L85.0 133.9L85.1 135.9L84.4 137.8L83.6 139.7" stroke="#8C6229" stroke-width="0.5"/></g></g>
<g id="rootsR"><g fill="none" stroke-linecap="round" stroke-linejoin="round"><path d="M458.0 109.7L458.9 111.7L459.0 113.8L458.7 116.0M451.4 138.8L453.2 139.4L455.1 139.6L457.0 139.4M459.9 112.8L460.2 115.4L461.3 117.7L461.9 120.2M435.4 116.4L434.7 117.1L434.3 118.1L434.1 119.1M460.2 119.6L459.9 120.7L459.9 121.8L459.8 122.9M458.8 112.7L457.8 115.5L457.0 118.3L455.9 120.9M456.2 134.2L457.1 135.5L458.1 136.7L459.3 137.7M465.9 135.3L467.0 137.2L467.6 139.3L468.0 141.4M468.1 137.4L468.9 139.0L470.1 140.5L471.4 141.8M471.5 140.1L470.4 142.4L468.9 144.6L467.4 146.8L465.5 148.6M473.7 125.0L473.0 126.4L472.2 127.8L471.9 129.4M489.9 109.8L490.1 111.4L490.7 113.0L491.5 114.4" stroke="#8C6229" stroke-width="0.4"/>
<path d="M453.9 116.8L453.3 118.4L452.6 119.9L452.0 121.4M441.6 127.8L442.0 130.5L441.7 133.2L441.5 135.9M468.6 120.3L469.5 122.8L470.2 125.3L470.3 128.0L471.1 130.5M484.7 128.3L486.8 130.9L489.2 133.2L490.8 136.1M472.3 112.1L469.8 114.2L467.0 115.7L464.4 117.6M481.8 128.4L483.1 130.5L484.5 132.6L485.9 134.8M481.0 117.1L482.2 117.8L483.2 118.8L483.9 120.1" stroke="#4A2E14" stroke-width="0.4"/>
<path d="M458.1 107.0L458.0 109.7L457.2 112.4L455.8 114.8L453.9 116.8L451.7 118.6L449.4 120.0M443.2 107.5L440.7 108.7L438.7 110.5L436.8 112.5L435.1 114.7L433.9 117.2M453.7 109.7L453.1 112.7L451.9 115.4L450.4 118.0L449.6 120.9M462.9 102.8L464.1 105.5L465.6 108.0L466.7 110.6L467.7 113.3L469.2 115.8L470.9 118.1M461.1 120.9L462.7 123.3L463.5 126.1L464.6 128.8M469.8 117.9L471.1 120.3L472.1 122.8L473.7 125.0L474.4 127.6L474.4 130.3L473.8 133.0M491.3 125.2L489.0 127.0L487.0 129.2L485.8 131.9L484.2 134.4M484.9 117.2L483.5 119.5L482.6 122.1L481.9 124.7L481.5 127.4" stroke="#8C6229" stroke-width="0.7"/>
<path d="M452.4 120.2L451.7 121.3L451.0 122.5L450.4 123.7M461.3 117.7L461.2 119.0L461.6 120.3L462.1 121.5M459.7 130.2L459.1 131.0L458.8 132.0L458.7 132.9M479.5 130.7L479.7 132.2L479.5 133.6L479.5 135.1M493.4 132.9L492.3 135.8L490.4 138.3L488.8 141.0M494.8 135.1L495.2 138.1L495.4 141.1L495.0 144.0L493.7 146.7" stroke="#8C6229" stroke-width="0.3"/>
<path d="M453.3 122.7L453.3 124.2L452.8 125.6L452.2 126.9M455.1 139.6L455.7 139.6L456.2 139.9L456.8 140.1M434.6 122.0L434.5 123.0L434.6 124.0L434.5 124.9M434.8 130.8L435.0 131.2L435.2 131.5L435.3 131.9M461.6 121.3L461.1 122.0L460.6 122.6L460.4 123.3M453.3 105.1L453.3 105.9L453.1 106.7L452.7 107.4M454.1 106.0L454.0 107.4L454.1 108.7L454.5 110.0M453.2 108.0L452.8 108.6L452.5 109.4L452.3 110.1M459.8 122.9L459.7 123.4L459.4 123.7L459.1 124.1M464.9 127.7L465.1 127.9L465.3 128.2L465.6 128.5M469.4 130.8L469.3 131.0L469.3 131.3L469.2 131.6M470.9 131.8L470.9 132.0L470.8 132.2L470.8 132.3M458.0 114.5L457.9 115.1L457.9 115.8L457.8 116.5M461.6 124.1L461.5 125.0L461.3 125.8L461.2 126.7M443.9 140.8L444.3 141.1L444.7 141.4L445.1 141.7M471.9 116.2L473.3 117.4L474.6 118.7L476.2 119.7M469.0 137.5L468.3 138.9L468.1 140.5L467.3 141.9M474.9 142.3L475.3 143.0L475.6 143.9L475.8 144.7M460.8 118.4L460.2 118.8L459.5 119.0L459.0 119.5M473.6 136.0L474.9 136.0L476.2 136.3L477.4 136.3M470.7 125.9L472.1 126.3L473.5 126.9L475.0 127.2M462.4 130.9L462.6 131.8L462.8 132.6L463.0 133.6M463.5 122.8L464.1 124.5L465.1 126.0L466.2 127.4M508.7 136.8L509.9 137.0L511.1 137.3L512.3 137.4M487.3 128.1L487.4 128.8L487.6 129.6L487.9 130.3M483.4 121.4L484.0 122.3L484.7 123.0L485.3 123.9M485.5 130.7L485.1 131.3L484.6 131.9L484.3 132.7M480.9 116.5L480.8 117.0L480.9 117.5L480.9 118.0M471.1 138.6L472.5 140.3L473.2 142.3L474.2 144.2M486.7 132.4L485.7 135.2L483.8 137.7L481.7 139.9" stroke="#2A180B" stroke-width="0.3"/>
<path d="M451.0 115.1L451.6 117.7L452.4 120.2L453.3 122.7L453.9 125.3M434.1 130.7L434.6 132.9L435.7 135.0L436.8 137.0M436.4 128.8L435.8 129.4L435.4 130.2L434.8 130.8M455.0 103.7L453.3 105.1L452.3 107.0L452.1 109.1M435.1 114.7L434.4 115.5L433.6 116.2L432.7 116.8M427.8 118.1L426.5 119.2L425.7 120.5L425.0 122.0M441.2 142.6L441.4 143.7L441.4 144.8L441.6 145.9M459.2 124.1L460.7 126.9L462.5 129.6L463.4 132.7M457.8 110.2L458.1 112.2L459.0 113.9L459.8 115.7M465.9 130.0L466.4 131.7L466.4 133.6L465.7 135.3M463.5 126.1L464.2 126.9L464.9 127.7L465.2 128.6M469.5 130.4L469.9 130.9L470.4 131.3L470.9 131.8M462.6 114.6L461.5 115.9L460.9 117.4L461.0 119.1M461.0 124.4L460.2 126.5L459.9 128.7L459.7 130.9M462.6 141.1L463.3 142.6L463.3 144.3L463.0 145.9M463.6 149.5L463.6 151.0L463.9 152.5L464.3 154.0M473.9 138.5L474.7 140.3L474.9 142.3L475.4 144.1M463.1 147.3L465.4 148.1L467.3 149.4L469.0 151.0M467.5 127.5L468.7 129.6L469.9 131.7L471.5 133.6M481.9 139.7L484.4 141.1L486.8 142.6L489.5 143.6M465.2 124.2L464.8 126.2L464.4 128.3L464.7 130.4M470.4 133.4L469.3 135.7L469.1 138.2L468.4 140.6M472.0 147.1L472.0 148.5L471.6 149.9L471.6 151.4M467.1 146.4L468.1 148.2L469.1 150.1L470.4 151.7M478.5 117.5L480.6 119.4L482.9 121.3L485.4 122.7L488.2 123.5M479.7 134.9L478.5 135.7L477.3 136.5L476.4 137.5M475.3 141.2L474.6 142.3L474.0 143.4L473.8 144.7M489.8 120.8L490.3 122.5L490.4 124.3L490.0 126.0M502.9 130.2L504.5 130.7L506.1 131.0L507.4 132.0M489.0 127.0L487.3 128.1L485.5 129.0L484.0 130.3M480.8 132.4L481.2 134.2L481.6 135.9L481.5 137.8M487.5 117.8L486.9 118.9L486.6 120.1L486.0 121.3M490.5 114.2L492.0 115.7L493.0 117.6L494.1 119.5" stroke="#34200E" stroke-width="0.4"/>
<path d="M441.7 133.2L441.2 133.9L440.8 134.8L440.2 135.6M432.7 116.8L432.7 117.2L432.8 117.6L432.8 117.9M441.6 140.9L441.6 141.3L441.8 141.8L442.0 142.1M462.5 129.6L462.0 130.4L461.8 131.4L461.5 132.2M458.1 122.0L458.4 122.9L458.7 123.7L458.9 124.6M447.1 120.6L447.1 121.4L446.8 122.1L446.8 122.9M468.8 130.1L469.1 130.5L469.3 130.9L469.5 131.3M452.8 133.3L452.5 133.8L452.3 134.4L452.3 135.0M463.0 145.9L462.6 146.4L462.2 146.9L461.8 147.5M466.9 152.6L466.5 153.3L466.0 153.9L465.7 154.7M471.1 121.9L472.5 123.5L473.8 125.2L475.1 126.8M469.0 126.7L470.0 127.7L470.9 128.9L471.2 130.2M464.4 128.3L464.3 129.3L464.3 130.3L464.5 131.3M465.3 159.4L465.7 159.9L466.1 160.4L466.5 160.9M470.2 125.3L469.4 127.2L468.7 129.1L467.5 130.8M469.3 135.7L469.5 137.1L469.4 138.5L469.5 139.9M486.5 137.9L486.1 139.7L485.7 141.4L485.0 143.1M495.1 156.3L495.8 157.4L496.2 158.5L496.8 159.6M474.0 143.4L473.7 144.0L473.2 144.5L472.9 145.1M469.8 114.2L469.8 115.3L469.6 116.5L469.5 117.7M495.2 147.9L495.1 148.5L495.0 149.2L495.2 149.8M474.2 120.6L474.7 121.3L475.0 122.2L475.3 123.0M486.9 118.9L486.7 119.4L486.6 119.8L486.3 120.3M480.6 148.1L479.5 150.8L479.0 153.6L478.8 156.5L478.6 159.4M447.8 134.8L447.8 138.1L448.2 141.4L449.3 144.5M488.6 134.5L487.6 136.9L486.1 139.1L485.3 141.6L485.4 144.2" stroke="#3E2611" stroke-width="0.3"/>
<path d="M454.3 110.9L452.4 112.8L451.0 115.1L449.4 117.1L448.1 119.4L446.6 121.7L445.2 123.9L443.4 125.9L441.6 127.8L440.4 130.2M441.9 121.0L442.5 123.8L443.0 126.6L443.1 129.5L442.8 132.3L442.8 135.2M445.5 136.2L448.4 137.6L451.4 138.8L454.4 140.0L457.6 140.5M447.5 108.3L445.1 109.3L443.3 111.2L441.3 112.9L439.1 114.3M436.8 121.0L437.5 123.6L437.3 126.2L436.4 128.8M460.8 104.5L460.3 107.4L459.1 110.0L458.1 112.7L458.0 115.6L458.2 118.4L459.0 121.2L459.2 124.1L459.3 127.0M454.4 112.6L454.6 115.3L454.7 118.0L453.9 120.6L453.5 123.4L452.3 125.8M454.1 122.9L454.5 125.7L454.5 128.6L455.1 131.5L456.2 134.2L457.2 136.9M470.8 143.8L471.5 146.7L473.1 149.3L474.1 152.1L474.2 155.1L473.9 158.1M470.6 146.5L469.1 149.6L467.2 152.5L465.5 155.5M470.7 112.6L469.6 115.0L468.7 117.6L468.6 120.3L469.4 122.8L470.0 125.5L470.2 128.1L470.8 130.8L470.4 133.4L470.0 136.1L470.4 138.8M500.2 128.8L502.9 130.2L505.4 132.0L507.0 134.6L507.9 137.5L507.9 140.6M477.7 109.6L478.1 112.4L478.6 115.1L479.0 117.8L480.2 120.3L480.5 123.1L481.5 125.6L481.8 128.4L482.5 131.0M479.6 111.4L480.4 114.2L481.0 117.1L481.8 119.9L481.9 122.8L481.9 125.7" stroke="#5C3B18" stroke-width="0.7"/>
<path d="M431.9 133.3L432.7 134.0L433.4 134.9L434.1 135.7M457.0 139.4L457.5 140.1L458.1 140.8L458.5 141.6M449.8 112.0L449.3 112.6L448.6 112.9L448.1 113.6M459.8 115.7L460.0 116.4L459.9 117.2L459.9 117.9M465.7 135.3L466.2 136.0L466.6 136.6L467.1 137.2M465.2 128.6L465.3 129.0L465.3 129.4L465.2 129.8M474.9 120.9L476.6 121.8L478.0 122.9L479.6 124.0M478.3 125.4L480.1 126.7L482.0 128.0L483.8 129.3M479.5 127.9L479.3 129.6L478.9 131.1L478.2 132.6M468.4 140.6L468.1 141.7L467.8 142.8L467.6 143.9M488.5 142.8L489.1 144.0L489.4 145.4L489.4 146.8M484.8 133.7L484.8 134.5L484.6 135.4L484.6 136.2M484.0 137.6L484.0 138.3L483.8 138.9L483.7 139.5M482.7 112.3L482.4 112.6L482.4 113.1L482.5 113.5M470.5 123.2L468.5 124.8L466.5 126.3L464.4 127.7" stroke="#7A5426" stroke-width="0.3"/>
<path d="M430.7 129.1L431.1 131.3L431.9 133.3L433.0 135.2M454.6 115.3L454.0 117.5L452.9 119.6L451.5 121.5M463.6 146.8L464.1 148.2L464.5 149.6L465.3 150.9M464.4 130.0L463.5 131.4L462.8 132.8L461.8 134.1M488.0 140.9L488.6 143.1L488.7 145.5L489.0 147.8M494.0 154.3L495.1 156.3L495.3 158.6L495.9 160.8M473.4 118.7L474.2 120.6L475.1 122.5L476.3 124.2M479.4 113.6L480.8 115.2L481.9 116.9L482.3 118.9" stroke="#5C3B18" stroke-width="0.4"/>
<path d="M445.0 116.6L442.5 117.3L439.9 117.7L437.4 118.1L435.3 119.7L434.0 122.0L432.9 124.3L431.9 126.7L430.7 129.1M446.3 123.4L446.5 126.5L445.6 129.5L444.0 132.2M463.9 103.3L464.4 106.3L463.8 109.3L463.9 112.3L463.3 115.3L462.0 118.0L461.2 121.0M468.0 120.0L467.8 122.7L467.2 125.4L467.1 128.1L467.0 130.9L466.1 133.5M467.1 121.8L467.1 124.7L467.5 127.5L468.0 130.3L468.0 133.2L467.2 135.9L466.7 138.7L466.7 141.5L466.6 144.4M473.2 135.8L474.8 138.3L475.6 141.2L476.2 144.0L477.6 146.6L478.3 149.5L479.0 152.4M482.8 123.5L485.7 124.9L488.7 125.7L491.1 127.9L493.2 130.2M467.0 125.7L468.7 127.9L469.5 130.5L469.8 133.3L469.5 136.0L469.8 138.8L469.2 141.5M468.8 136.3L469.4 138.9L469.1 141.5L468.3 144.0L467.1 146.4L465.4 148.5M473.6 104.8L474.6 107.3L475.6 109.9L476.9 112.3L477.7 114.9L478.5 117.5L479.8 119.8L480.2 122.5L481.2 125.1L482.2 127.6M489.1 138.1L490.7 140.5L491.4 143.3L491.6 146.1L492.5 148.9L493.8 151.4L494.0 154.3M477.0 125.2L475.3 127.3L473.1 128.9L471.7 131.2L471.2 133.8L470.8 136.5L470.8 139.2M474.1 104.8L473.2 107.5L472.6 110.3L472.8 113.1L472.6 116.0L473.4 118.7L474.7 121.2L475.9 123.8M476.3 112.7L474.9 115.4L473.0 117.8L470.8 120.0L468.5 122.0L467.2 124.8M472.2 125.8L470.0 128.1L468.6 130.8L467.0 133.5M484.9 122.9L484.3 125.4L483.3 127.8L482.2 130.2L480.8 132.4L480.1 134.9L480.2 137.5L480.3 140.1M489.8 116.4L488.9 119.2L487.6 121.9L486.9 124.7M478.7 105.2L480.9 107.2L483.5 108.6L485.8 110.5L488.4 112.0L490.5 114.2L492.1 116.7M479.8 107.7L482.4 109.3L485.2 110.5L487.7 112.3M487.2 122.1L488.2 124.9L489.7 127.5L491.2 130.1M488.1 127.5L489.7 130.3L490.2 133.6L491.0 136.8" stroke="#7A5426" stroke-width="0.7"/>
<path d="M454.4 140.0L454.3 142.1L453.9 144.2L453.0 146.1M427.7 123.0L427.0 123.5L426.4 123.9L425.8 124.4M460.7 118.4L461.2 119.9L461.6 121.3L461.7 122.8M450.8 111.2L449.8 112.0L448.8 112.6L447.6 113.0M452.2 114.6L451.9 116.7L451.0 118.6L449.7 120.3M471.0 128.1L472.5 128.5L473.8 129.1L475.0 130.2M469.7 114.4L471.9 116.2L473.6 118.4L474.9 120.9L476.4 123.3L478.3 125.4L479.5 127.9M468.3 145.4L466.7 146.5L465.1 147.5L464.0 149.1M467.6 116.6L469.5 119.1L470.3 122.1L470.9 125.1M467.5 111.3L465.1 113.5L463.1 116.1L460.8 118.4M471.2 130.4L470.8 133.5L471.0 136.7L471.0 139.9M471.2 141.4L472.0 142.4L473.0 143.4L473.5 144.6M490.3 123.1L490.7 125.1L491.1 127.1L491.0 129.2M485.8 131.9L484.8 133.7L484.4 135.6L484.0 137.6" stroke="#7A5426" stroke-width="0.4"/>
<path d="M462.1 103.3L459.7 104.7L458.1 107.0L456.4 109.1L454.3 110.9L452.3 112.8L449.9 114.1L447.2 114.9L445.0 116.6L443.1 118.6L441.9 121.0L441.1 123.6L440.9 126.4L441.5 129.1L442.4 131.7L444.0 133.9L445.5 136.2M462.4 103.8L459.7 104.2L457.1 104.2L454.5 104.8L452.1 105.7L449.8 107.1L447.5 108.3L445.3 109.8L443.3 111.5L442.0 113.8L440.1 115.6L438.7 117.8L436.8 119.7L434.6 121.1L432.2 122.2L430.2 123.9M465.2 102.5L463.4 104.6L461.5 106.6L459.4 108.4L458.3 110.9L457.6 113.6L457.4 116.4L457.9 119.1L458.9 121.7L460.2 124.2L461.9 126.3L463.4 128.6L464.6 131.1L465.9 133.6L466.0 136.3L465.4 139.0M466.7 102.5L465.3 104.8L463.6 106.9L461.9 109.0L460.3 111.2L458.6 113.3L456.7 115.2L455.7 117.7L454.9 120.3L454.1 122.9L453.2 125.4L451.9 127.8L450.6 130.2M466.9 102.9L466.7 105.5L466.1 108.1L465.0 110.5L464.2 113.0L464.1 115.6L463.4 118.1L462.7 120.7L461.7 123.1L460.3 125.4L459.1 127.7L457.7 129.9L456.7 132.3L455.5 134.7L453.8 136.7M472.0 103.3L474.3 104.7L475.8 107.0L477.1 109.3L478.0 111.9L478.2 114.6L477.5 117.2L477.4 119.8L477.0 122.5L477.0 125.2L476.9 127.9L476.2 130.5L476.6 133.2L476.2 135.9L476.4 138.5L476.9 141.2L476.5 143.9M472.4 100.9L474.3 102.7L475.8 104.9L477.6 106.9L479.2 109.0L481.3 110.6L483.1 112.6L485.1 114.3L487.2 115.9L489.3 117.6L491.6 119.0L493.7 120.7L495.7 122.3L497.7 124.1L498.8 126.6L500.2 128.8L501.0 131.4L502.5 133.6L503.2 136.1M474.4 101.8L476.6 103.4L478.7 105.2L479.8 107.7L481.4 109.9L483.1 112.0L483.8 114.6L484.9 117.2L486.0 119.6L487.2 122.1L487.4 124.8L488.1 127.5" stroke="#34200E" stroke-width="1.1"/>
<path d="M451.6 114.1L450.2 116.9L449.9 120.1L449.5 123.2L449.0 126.3M455.7 104.4L454.1 106.0L453.2 108.0L452.7 110.1M442.1 139.8L441.6 140.9L441.1 142.0L440.4 142.9M448.4 119.7L447.1 120.6L445.9 121.8L445.0 123.1M461.2 121.0L460.5 122.1L460.2 123.4L460.3 124.7M458.3 121.4L459.7 123.0L461.6 124.1L463.3 125.4M468.8 126.5L468.0 128.9L468.1 131.4L467.6 133.8M470.5 140.0L471.0 140.8L471.5 141.6L471.8 142.5M474.3 112.7L476.8 113.9L479.5 114.4L482.2 114.5M473.5 133.1L471.6 135.6L469.0 137.5L467.1 140.0M469.1 149.6L468.0 151.1L466.9 152.6L466.3 154.4M471.0 118.8L472.5 121.1L473.9 123.4L475.6 125.6L476.5 128.2M467.2 135.9L466.7 138.6L465.8 141.2L465.2 143.9L463.8 146.3M469.5 136.0L469.0 137.4L468.6 138.8L468.2 140.2M475.4 145.5L476.3 145.7L477.2 146.1L478.2 146.2M483.7 133.4L485.1 135.7L486.5 137.9L487.9 140.2L488.5 142.8M488.6 138.2L487.9 139.7L487.7 141.4L487.7 143.1M490.7 140.5L489.9 142.1L489.9 143.8L489.9 145.5M468.1 118.7L466.1 121.1L463.5 122.8L462.0 125.5L460.7 128.3L458.9 130.8M507.0 134.6L508.7 136.8L509.4 139.4L510.6 142.0M484.3 125.4L485.2 128.0L485.5 130.7L486.2 133.3M478.3 110.8L479.3 112.7L480.5 114.4L480.9 116.5M487.4 120.6L487.8 121.5L488.5 122.3L489.0 123.1" stroke="#3E2611" stroke-width="0.4"/>
<path d="M452.1 105.7L452.5 108.5L452.6 111.4L451.6 114.1L451.0 117.0L451.4 119.8L451.6 122.7L452.7 125.3L453.3 128.2M436.7 112.1L434.7 113.9L432.7 115.8L430.3 117.1L427.8 118.1M435.3 114.4L435.4 116.4L435.4 118.4L435.0 120.4M454.5 111.5L455.7 114.6L457.9 117.2L460.2 119.6M442.7 128.3L442.6 131.2L442.3 134.1L442.0 136.9L442.1 139.8L441.2 142.6M456.6 107.8L457.8 110.2L458.8 112.7L458.8 115.4L459.7 118.0L460.4 120.6L460.2 123.3L460.0 126.0M463.4 128.6L465.9 130.0L468.2 131.6L470.8 132.6L473.1 134.1L475.0 136.2L477.2 137.8M462.2 107.2L462.0 110.2L462.0 113.2L462.0 116.1L462.8 119.0M451.9 127.8L451.0 129.9L450.0 131.9L449.7 134.2M464.2 113.0L462.1 114.5L459.9 116.0L458.1 118.0L456.2 119.8L455.2 122.2L454.2 124.7L453.7 127.2M464.8 116.7L463.2 119.1L461.9 121.7L461.0 124.4L460.4 127.3L460.1 130.2L460.4 133.0L461.0 135.9M469.6 135.1L468.1 137.4L466.2 139.3L465.3 141.8L464.0 144.1L463.6 146.8L463.6 149.5M460.2 135.5L461.2 138.5L461.1 141.5L461.9 144.5L463.1 147.3L465.0 149.8M467.8 114.1L469.3 116.5L471.0 118.8L471.8 121.5L472.2 124.4L472.4 127.2L473.0 130.0L473.6 132.8M464.0 132.8L465.1 135.5L466.8 137.9L467.9 140.6L468.3 143.5L468.6 146.5M475.0 137.8L476.2 140.2L476.8 142.7L477.5 145.2L477.5 147.8L478.3 150.3L479.7 152.5M470.3 113.7L468.9 116.3L467.2 118.7L466.5 121.5L465.2 124.2L464.5 127.0L464.4 130.0L464.4 132.9M460.0 141.4L461.0 144.2L461.7 147.1L462.0 150.0L462.8 152.8L463.4 155.7M477.0 111.3L478.7 113.4L480.7 115.4L481.8 117.9L482.5 120.5M484.0 128.8L486.0 130.1L487.2 132.2L487.8 134.5M482.6 118.1L485.0 119.5L486.6 121.8L487.5 124.4L488.5 127.0L490.2 129.2L492.4 130.9L493.7 133.4L495.2 135.7M478.0 104.7L477.7 107.7L478.3 110.8L479.4 113.6L479.3 116.7M496.8 120.7L499.9 121.0L502.6 122.7L504.5 125.2L507.0 127.2M496.0 105.6L498.0 107.3L500.2 108.7L502.0 110.7" stroke="#34200E" stroke-width="0.7"/>
<path d="M440.1 115.6L439.8 118.8L439.4 121.9L439.6 125.0L438.7 128.0M438.7 117.8L437.2 120.2L436.2 122.8L435.4 125.4L434.3 128.0L434.1 130.7L434.5 133.4M436.8 119.7L433.8 121.0L430.7 121.9L427.7 123.0M438.4 118.8L436.1 121.2L433.3 122.9L430.6 124.9M458.2 102.5L455.0 103.7L451.6 104.3L448.5 105.9M450.4 104.1L450.2 106.9L450.7 109.7L451.7 112.3L452.9 114.9M443.3 123.0L444.5 125.8L445.7 128.7L446.6 131.7L448.1 134.4L449.3 137.2M446.3 126.0L446.8 128.6L446.3 131.2L445.2 133.6L444.6 136.2M461.5 106.6L459.2 108.0L457.4 110.2L456.4 112.7L455.3 115.2L453.7 117.6M459.4 108.4L457.1 109.7L455.1 111.5L453.5 113.6L451.9 115.7L449.8 117.4L448.4 119.7L446.6 121.7M463.7 104.9L464.5 107.9L464.8 111.0L464.2 114.1L462.8 116.9M461.7 109.9L460.5 112.6L460.1 115.5L459.0 118.2L458.6 121.1L457.4 123.7M463.3 125.9L465.4 128.3L466.9 131.2L467.9 134.3L467.9 137.5M460.1 107.1L460.2 109.8L459.9 112.4L459.9 115.1L460.4 117.8L461.2 120.3L462.0 122.9M452.1 125.5L451.7 128.8L451.3 132.1L451.4 135.4M452.9 128.0L453.6 130.4L454.9 132.5L456.4 134.4M461.9 109.0L462.4 111.8L462.6 114.6L462.7 117.4L462.8 120.3L462.5 123.1M450.6 130.2L448.3 132.7L445.7 134.9L442.8 136.6M464.1 115.6L462.9 118.0L462.8 120.6L462.5 123.2L462.1 125.8L461.8 128.4L461.9 131.0L461.0 133.5L460.8 136.1M461.7 123.1L462.7 125.5L463.8 127.9L464.7 130.4L465.8 132.7L465.9 135.3L465.4 137.9L465.7 140.4M467.0 124.6L468.8 126.5L471.0 128.1L472.7 130.2L474.4 132.2L476.3 134.1L478.4 135.9M467.4 127.3L465.7 129.8L464.8 132.6L464.8 135.6L464.0 138.5L462.6 141.1L462.4 144.1M467.6 103.9L469.7 105.7L471.7 107.7L473.0 110.2L474.3 112.7L475.8 115.1L477.7 117.2L479.7 119.1L481.3 121.4L482.3 124.0M470.4 133.1L470.3 136.1L469.9 139.1L469.0 142.0L469.1 145.1M470.8 135.8L469.6 138.4L467.9 140.7L465.9 142.7L463.5 144.4M466.5 107.5L466.3 110.3L466.2 113.1L466.5 115.9L467.5 118.4L469.0 120.8L470.4 123.2L471.8 125.7L473.7 127.7M459.0 127.5L457.3 130.0L456.2 132.9L454.5 135.4L452.6 137.9L450.5 140.0M459.1 140.8L459.6 143.8L459.5 146.9L458.6 149.8L458.4 152.8M468.4 105.9L466.5 108.0L464.7 110.3L462.5 112.1L460.7 114.2M468.0 119.3L469.4 121.6L470.4 124.1L471.9 126.3L473.2 128.6L474.4 131.0L475.2 133.6L475.2 136.3M476.0 143.5L474.1 145.4L472.0 147.1L469.6 148.4L467.5 150.0M476.7 146.1L476.0 148.8L475.1 151.6L474.7 154.4L473.7 157.1L472.0 159.4M478.6 113.5L480.3 115.8L481.0 118.4L481.5 121.1L482.9 123.5M467.9 128.3L469.2 130.6L470.1 133.2L471.6 135.5L472.9 137.9L474.0 140.4M468.4 130.9L468.9 133.8L469.0 136.7L469.6 139.5L469.3 142.4L470.0 145.3L471.4 147.8M484.5 125.6L484.7 128.3L484.4 130.9L483.7 133.4L483.4 136.0L484.0 138.6L485.2 140.9L486.9 142.9L489.1 144.4M488.6 135.4L488.6 138.2L488.0 140.9L487.2 143.5L486.4 146.1L485.5 148.7L485.1 151.4M477.0 122.5L477.5 125.1L478.7 127.4L479.8 129.8L480.1 132.4L479.7 134.9M476.6 133.2L475.3 135.7L474.9 138.4L475.3 141.2L476.3 143.8M475.8 104.9L474.5 107.2L473.5 109.7L472.3 112.1L471.5 114.6L470.1 116.9L468.1 118.7L466.2 120.6L464.3 122.4L462.1 123.9L459.9 125.5L457.8 127.1M483.1 112.6L485.5 114.2L486.9 116.6L487.7 119.3L488.8 121.9L490.3 124.3L491.9 126.6L493.8 128.7M503.2 136.1L501.7 138.3L500.1 140.4L498.4 142.3L496.7 144.3L494.8 146.1M474.2 117.8L473.4 120.3L473.1 122.9L472.5 125.5L472.6 128.1L472.6 130.7L472.3 133.3M472.8 131.3L470.8 133.5L469.0 135.9L467.8 138.6L467.0 141.4M491.0 119.8L490.3 123.1L489.9 126.5L489.4 129.8M475.4 105.0L478.1 106.5L480.9 107.9L483.7 109.1L486.5 110.4L489.6 111.1M487.0 133.2L488.8 135.4L489.9 138.0L490.1 140.9L489.3 143.6L489.5 146.4M486.0 112.3L487.2 114.9L487.5 117.8L487.4 120.6M477.7 101.9L480.6 103.6L483.0 105.8L485.3 108.2" stroke="#2A180B" stroke-width="0.7"/>
<path d="M434.6 132.9L435.3 133.9L435.8 135.0L435.9 136.2M427.0 123.5L426.8 123.6L426.6 123.8L426.3 123.9M430.6 129.9L431.1 130.6L431.6 131.2L432.0 132.0M434.7 117.1L434.6 117.5L434.6 117.8L434.6 118.2M434.3 118.1L434.3 118.5L434.3 118.8L434.4 119.1M461.0 119.1L461.2 119.6L461.3 120.2L461.4 120.8M445.5 136.5L444.9 136.9L444.4 137.4L444.0 138.0M470.8 133.5L470.2 135.2L470.2 136.9L469.7 138.6M465.2 143.9L465.1 145.0L464.7 146.1L464.0 146.9M468.5 120.3L466.9 122.7L465.8 125.3L464.1 127.6M470.4 151.7L470.9 152.0L471.3 152.4L471.7 152.7M462.0 125.5L461.4 126.8L460.9 128.1L460.5 129.5M460.7 128.3L459.7 129.6L459.1 131.1L458.4 132.6M486.0 121.3L486.1 121.6L486.1 122.0L486.0 122.4" stroke="#34200E" stroke-width="0.3"/>
<path d="M434.5 133.4L433.8 134.5L433.1 135.5L432.2 136.2M430.4 124.3L430.2 127.1L430.6 129.9L430.1 132.6M429.4 126.9L429.4 128.5L429.3 130.1L428.8 131.6M451.3 115.9L449.6 116.9L447.9 117.8L446.2 118.7M436.1 121.2L434.6 122.0L432.9 122.5L431.1 122.7M464.1 105.5L462.3 107.8L460.4 109.9L458.6 112.3M460.3 107.4L458.8 109.5L457.0 111.4L454.9 113.0L453.6 115.2M459.7 118.0L459.2 120.1L458.1 122.0L457.6 124.1M451.5 115.8L449.8 116.0L448.3 117.0L446.8 117.7M467.6 128.7L468.2 129.4L468.8 130.1L469.4 130.8M460.2 109.8L459.1 111.2L458.3 112.7L458.0 114.5M451.7 128.8L452.4 130.2L452.8 131.7L452.8 133.3M453.6 130.4L454.5 131.4L455.4 132.3L456.3 133.3M459.1 124.0L460.5 126.4L462.5 128.4L463.8 130.8M459.8 126.7L458.9 129.1L458.0 131.5L457.2 133.9M445.7 134.9L445.5 136.5L445.0 138.2L444.6 139.8M442.8 136.6L443.0 138.0L443.4 139.5L443.9 140.8M461.8 128.4L459.7 130.2L457.3 131.7L454.6 132.6M464.0 138.5L465.4 141.0L466.1 143.8L466.7 146.6M481.3 121.4L480.3 124.4L480.4 127.6L479.5 130.7M467.2 152.5L465.6 153.2L463.8 153.7L462.2 154.5M466.0 114.5L465.6 117.2L465.7 119.8L465.6 122.5L465.2 125.1M469.3 116.5L469.9 119.3L471.1 121.9L472.9 124.2L474.6 126.5M459.6 148.1L458.2 149.0L457.1 150.1L456.0 151.3M466.1 113.5L466.1 116.3L465.7 119.0L464.8 121.6M465.5 118.7L466.7 121.4L467.7 124.1L469.0 126.7L469.3 129.6M466.7 138.7L465.2 141.0L463.4 143.0L461.7 145.1L460.4 147.5M471.5 134.5L473.6 136.0L475.9 137.0L478.1 138.3M473.6 145.3L474.9 148.0L476.0 150.7L477.2 153.4M462.8 152.8L463.9 154.9L464.7 157.1L465.3 159.4M468.7 117.6L468.5 120.3L467.9 123.1L466.6 125.5L465.4 128.0L464.1 130.5M469.2 123.8L470.7 125.9L471.4 128.3L471.7 130.8M467.7 135.3L467.1 136.9L466.5 138.5L465.5 140.0M464.5 124.7L464.4 126.9L463.6 129.0L462.4 130.9M479.8 129.8L480.6 131.4L480.8 133.2L480.8 135.1M457.8 127.1L456.6 129.8L455.3 132.5L454.2 135.2L453.5 138.1M493.8 127.8L493.1 129.9L492.6 132.0L491.7 134.0M500.1 140.4L498.9 141.5L497.3 142.3L495.9 143.2M494.8 146.1L495.2 147.9L495.1 149.7L495.3 151.5M480.9 107.9L481.4 109.4L482.3 110.7L482.7 112.3M481.8 119.9L483.4 121.4L485.0 123.1L486.3 125.0M480.2 137.5L480.6 139.1L481.1 140.7L481.9 142.2M486.2 121.7L487.7 122.9L488.8 124.5L490.3 125.9" stroke="#2A180B" stroke-width="0.4"/>
<path d="M434.6 121.1L435.2 123.7L435.8 126.3L436.9 128.7L437.1 131.4L437.1 134.0M455.6 105.5L454.6 108.1L452.9 110.4L452.0 113.1L451.3 115.9L451.0 118.7M450.4 116.8L451.1 119.4L451.4 122.1L452.4 124.7L453.6 127.1L453.9 129.8M454.9 109.9L453.2 112.0L452.2 114.6L451.5 117.3L451.5 120.0L451.6 122.8M465.4 127.8L467.6 128.7L469.5 130.4L471.5 131.8M452.5 117.5L453.7 120.1L454.8 122.8L456.3 125.3M458.6 113.3L458.2 116.0L457.8 118.7L458.3 121.4L459.1 124.0L459.8 126.7L459.5 129.4M468.5 111.9L469.7 114.4L470.0 117.2L471.2 119.7L471.9 122.4L473.1 124.9L473.8 127.5L473.8 130.3L473.5 133.1L473.3 135.8L473.9 138.5M467.6 122.7L469.3 125.1L470.9 127.5L472.4 130.1L473.3 132.9L474.9 135.4M469.9 130.4L470.9 132.8L471.3 135.5L471.2 138.1L470.3 140.6L469.1 142.9L468.3 145.4M464.4 112.5L466.0 114.5L467.6 116.6L469.3 118.6L471.2 120.4L472.5 122.7L473.6 125.0L474.1 127.6L474.5 130.2L475.5 132.6M460.8 119.8L458.5 121.8L456.1 123.6L453.9 125.8L451.5 127.7M468.6 108.9L467.5 111.3L466.1 113.5L465.5 116.1L465.5 118.7L465.7 121.4L466.7 123.8L468.2 126.0L469.5 128.3L471.2 130.4M468.3 129.6L469.8 132.2L471.5 134.5L473.8 136.4L476.3 138.1L479.0 139.2L481.9 139.7L484.8 139.8M467.1 124.0L467.9 126.7L467.8 129.6L468.1 132.5L468.4 135.3L469.6 137.9L471.5 140.1L473.0 142.5L473.6 145.3M470.3 115.3L470.6 118.2L470.2 121.1L469.2 123.8L468.6 126.6L468.0 129.5L468.1 132.4L467.7 135.3M466.8 123.0L464.5 124.7L461.9 125.7L459.9 127.7L457.6 129.4M468.8 133.6L467.1 135.9L465.7 138.4L464.7 141.1L463.3 143.6L461.6 145.9M486.1 130.7L487.8 132.9L489.6 134.9L491.5 136.9L493.7 138.5L495.6 140.4L497.8 142.1L499.6 144.2M497.7 124.1L500.0 125.8L502.2 127.5L504.1 129.6L505.3 132.2L506.1 134.9L507.6 137.3L508.6 139.9M481.6 108.9L484.3 109.6L487.1 110.0L489.9 109.8L492.7 110.1" stroke="#3E2611" stroke-width="0.7"/>
<path d="M432.2 122.2L430.4 124.3L429.4 126.9L428.1 129.3L427.7 132.0L426.6 134.5M460.7 101.7L460.3 104.6L459.4 107.3L459.2 110.1L459.9 112.8L460.5 115.6L460.7 118.4M461.4 103.1L458.5 103.7L455.7 104.4L453.1 105.9L451.4 108.3L450.8 111.2M458.3 110.9L456.4 113.0L454.1 114.7L451.5 115.8L448.8 116.6L446.0 117.2M452.2 120.2L452.8 123.3L453.6 126.3L455.2 129.1L457.1 131.6M469.3 132.4L471.6 133.6L473.8 135.1L476.1 136.4L478.1 138.1L479.8 140.1M469.4 137.8L470.5 140.0L471.2 142.4L471.9 144.7M464.7 138.2L463.6 140.8L462.4 143.3L460.8 145.6L459.6 148.1M469.5 138.9L471.2 141.4L473.1 143.7L475.4 145.5M476.4 138.5L475.6 141.2L474.2 143.6L473.4 146.2L473.3 149.0L472.9 151.8M487.2 115.9L488.4 118.4L489.8 120.8L491.7 122.8L493.0 125.2L493.8 127.8L494.4 130.5M479.6 107.0L480.2 109.6L481.2 112.1L482.7 114.4L483.6 116.9L485.1 119.2L486.2 121.7" stroke="#4A2E14" stroke-width="0.7"/>
<path d="M446.2 118.7L445.8 119.2L445.2 119.5L444.7 120.0M448.8 112.6L448.7 113.3L448.7 114.0L448.8 114.6M473.8 129.1L474.1 129.7L474.2 130.3L474.4 130.8M475.6 125.6L475.3 127.3L474.8 128.9L473.8 130.3M478.1 138.3L478.8 138.9L479.3 139.7L479.7 140.6M464.7 130.4L465.1 130.8L465.2 131.4L465.4 132.0M468.6 138.8L468.6 139.2L468.7 139.6L468.8 140.0M477.2 146.1L477.4 146.5L477.5 147.0L477.5 147.5M469.9 136.2L472.0 138.1L474.3 139.6L476.1 141.7" stroke="#5C3B18" stroke-width="0.3"/>
<path d="M462.7 101.3L460.1 102.3L457.8 103.8L455.6 105.5L453.1 106.6L450.7 108.0L448.7 109.9L447.2 112.2L445.3 114.2L443.0 115.7L440.8 117.4L438.4 118.8L436.8 121.0M469.0 103.5L468.8 106.2L468.6 108.9L468.5 111.5L469.0 114.1L468.8 116.8L468.0 119.3L467.1 121.8L467.0 124.5L467.3 127.1L468.3 129.6L470.0 131.7L472.0 133.5L473.2 135.8L475.0 137.8L476.8 139.7L478.5 141.8M473.6 103.1L475.4 105.0L476.3 107.4L477.7 109.6L479.6 111.4L481.2 113.5L482.7 115.6L484.2 117.8L484.9 120.3L484.9 122.9L485.4 125.5L485.9 128.1L486.5 130.6L487.0 133.2L488.2 135.5" stroke="#8C6229" stroke-width="1.1"/>
<path d="M463.3 101.0L460.7 101.7L458.2 102.5L455.5 102.8L453.0 103.4L450.4 104.1L448.1 105.4L445.6 106.3L443.2 107.5L440.8 108.7L438.8 110.5L436.7 112.1L435.3 114.4M464.1 101.9L461.9 103.3L459.9 105.0L457.8 106.5L455.5 107.8L453.7 109.7L452.7 112.1L451.8 114.6L450.4 116.8L448.9 118.9L447.3 120.9L446.3 123.4L446.3 126.0L447.1 128.5L447.9 130.9L449.4 133.1L450.0 135.6M464.7 100.8L462.9 102.8L460.8 104.5L458.4 105.7L456.6 107.8L454.9 109.9L453.1 111.9L450.9 113.5L448.8 115.2L446.4 116.5L444.5 118.4L442.2 119.7L439.8 121.0L437.7 122.7L436.3 125.0L434.8 127.3L433.5 129.6L432.4 132.1M468.7 103.2L468.4 105.9L468.3 108.7L467.6 111.3L467.8 114.1L467.2 116.8L466.5 119.4L466.4 122.2L465.4 124.7L464.5 127.3L464.0 130.0L464.0 132.8L464.6 135.4L464.7 138.2M469.4 103.0L470.2 105.6L471.0 108.2L470.7 111.0L470.3 113.7L469.2 116.1L468.4 118.7L468.2 121.5L467.1 124.0L465.9 126.4L464.2 128.6L463.3 131.1L462.6 133.8L461.5 136.3L460.3 138.7L460.0 141.4L460.4 144.1M470.3 102.8L471.8 105.1L473.9 106.8L475.7 108.9L477.0 111.3L478.6 113.5L480.1 115.8L480.6 118.5L481.7 121.1L482.8 123.5L483.0 126.3L484.0 128.8M472.7 102.4L474.1 104.8L475.5 107.3L476.4 109.9L476.3 112.7L475.6 115.4L474.2 117.8L473.8 120.6L472.5 123.0L472.2 125.8L472.9 128.5L472.8 131.3L473.5 134.0L473.8 136.8M473.3 103.9L475.0 106.0L476.9 108.1L479.0 109.8L481.5 110.9L484.1 111.8L486.4 113.1L488.3 115.2L490.0 117.2L491.0 119.8L491.5 122.5L491.3 125.2L491.4 127.9M474.1 100.9L476.4 102.4L478.0 104.7L479.6 107.0L481.6 108.9L483.8 110.7L486.0 112.3L488.2 114.1L489.8 116.4L491.8 118.3L494.2 119.6L496.8 120.7" stroke="#3E2611" stroke-width="1.1"/>
<path d="M464.0 102.1L461.4 103.1L459.5 105.0L457.4 106.9L455.9 109.1L454.5 111.5L452.6 113.5L450.5 115.2L448.0 116.3L446.2 118.3L445.1 120.9L443.3 123.0L442.6 125.6L442.7 128.3M467.7 101.2L467.6 103.9L468.0 106.5L468.3 109.2L468.5 111.9L468.1 114.6L467.8 117.3L468.0 120.0L467.6 122.7L468.3 125.3L469.1 127.8L469.9 130.4L470.4 133.1L470.8 135.8L470.5 138.4L470.5 141.1L470.8 143.8L470.6 146.5" stroke="#5C3B18" stroke-width="1.1"/>
<path d="M465.6 102.8L463.7 104.9L462.2 107.2L461.7 109.9L461.4 112.7L460.7 115.3L460.9 118.1L461.1 120.9L461.9 123.5L463.3 125.9L465.4 127.8L467.8 129.1M470.9 102.1L471.6 104.7L471.6 107.4L470.7 110.0L469.7 112.5L469.1 115.1L468.4 117.8L467.6 120.4L466.8 123.0L467.0 125.7L467.9 128.3L468.4 130.9L468.8 133.6L468.8 136.3L469.5 138.9" stroke="#7A5426" stroke-width="1.1"/>
<path d="M465.9 101.6L463.9 103.3L462.1 105.3L460.1 107.1L458.0 108.7L456.3 110.7L454.4 112.6L453.1 114.9L452.5 117.5L452.2 120.2L452.0 122.8L452.1 125.5L452.9 128.0M467.5 100.9L467.6 103.7L467.7 106.4L467.5 109.1L466.7 111.7L465.3 114.0L464.8 116.7L465.1 119.5L466.0 122.0L467.0 124.6L467.4 127.3L468.1 129.9L469.3 132.4L469.6 135.1L469.4 137.8M468.3 102.3L467.6 105.0L466.5 107.5L465.8 110.1L464.4 112.5L463.5 115.1L462.4 117.6L460.8 119.8L459.3 122.1L458.9 124.8L459.0 127.5L459.5 130.2L460.3 132.8L460.2 135.5L460.1 138.3L459.1 140.8L458.5 143.5M471.6 103.1L473.6 104.8L475.0 107.1L476.6 109.3L478.2 111.4L479.3 113.9L481.1 115.9L482.6 118.1L484.0 120.3L484.7 122.9L484.5 125.6L485.2 128.2L486.1 130.7L487.7 132.9L488.6 135.4L489.1 138.1L489.9 140.6M475.0 101.7L477.7 101.9L480.3 102.5L482.9 103.2L485.5 103.5L488.2 103.9L490.9 104.1L493.5 104.9L496.0 105.6L498.1 107.2L500.1 109.0L502.5 110.4" stroke="#2A180B" stroke-width="1.1"/>
<path d="M459.7 123.0L460.6 124.0L461.3 125.2L462.2 126.2M457.2 133.9L457.0 134.7L457.0 135.6L456.8 136.4M474.6 126.5L474.7 127.5L475.0 128.4L475.4 129.3M466.5 138.5L466.0 139.3L465.8 140.2L465.6 141.1M471.6 151.4L471.8 152.0L471.9 152.6L471.8 153.2M509.4 139.4L509.8 140.3L510.2 141.2L510.3 142.2M490.7 125.1L491.6 126.1L492.2 127.3L492.5 128.6M480.8 115.2L480.6 116.4L480.7 117.6L480.4 118.8M482.3 118.9L481.9 119.7L481.3 120.4L480.6 120.9M481.1 137.6L479.3 139.9L477.1 141.7L474.5 143.1L471.9 144.2L469.4 145.7L467.0 147.3M469.0 128.3L470.1 130.5L471.5 132.5L472.2 134.8M446.4 142.6L446.5 145.5L447.3 148.2L448.6 150.8M498.5 138.9L499.1 141.9L499.2 144.9L500.3 147.8" stroke="#4A2E14" stroke-width="0.3"/>
<path d="M469.9 101.9L469.9 104.6L469.6 107.3L470.1 109.9L470.7 112.6L470.3 115.3L469.8 117.9L469.7 120.6L469.4 123.3L470.1 126.0L470.9 128.5L472.2 130.9L474.0 132.9L475.0 135.4L475.3 138.1L475.8 140.8L476.0 143.5L476.7 146.1" stroke="#4A2E14" stroke-width="1.1"/>
<path d="M480.9 122.8L482.1 125.1L483.3 127.5L483.5 130.1L483.0 132.7L481.8 135.0L481.1 137.6L481.2 140.2L481.1 142.9L480.7 145.5L480.6 148.1L480.1 150.7L479.5 153.2L478.1 155.5M490.0 122.9L491.0 125.4L492.1 127.8L492.4 130.4L493.4 132.9L494.8 135.1L496.7 136.9L498.5 138.9L500.2 140.9L501.6 143.1M480.0 120.2L481.1 122.8L482.7 125.0L483.9 127.6L485.3 130.0L486.7 132.4L488.6 134.5L490.1 136.9L491.1 139.5L492.2 142.0M470.5 122.8L470.2 125.6L470.2 128.5L470.2 131.3L469.5 134.1L469.0 136.9L469.4 139.7L470.5 142.3L470.9 145.1M470.2 121.8L471.2 124.5L471.1 127.3L470.8 130.1L470.8 132.9L470.0 135.6L469.4 138.3L469.3 141.1L468.7 143.9" stroke="#2A180B" stroke-width="0.5"/>
<path d="M470.9 118.0L471.1 120.6L470.5 123.2L469.8 125.8L469.0 128.3L469.0 131.0L469.2 133.7L469.9 136.2L471.1 138.6M448.4 121.6L448.5 124.2L448.6 126.9L448.3 129.5L448.1 132.2L447.8 134.8L447.6 137.5L446.9 140.0L446.4 142.6L446.0 145.3" stroke="#3E2611" stroke-width="0.5"/></g></g>
<path d="M77 102 C72 105 66 107 58 109.5 C66 109.6 74 108.5 82 106 C88 106.5 93 107 98 107.5 C94 105.5 91 104 88 102 Z" fill="#6A4D12"/>
<path d="M461 100 C454 104 446 107 436 110 C447 110.5 457 109 467 106 C475 106.5 482 107.5 489 108.5 C484 105.5 480 103 476 100 Z" fill="#6A4D12"/>
<use href="#tree" transform="translate(30,25) scale(0.2)"/>
<use href="#tree" transform="translate(398.6,-7.66) scale(0.268,0.2776)"/>
<line x1="371.3" y1="7.1" x2="374.2" y2="401.2" stroke="#000" stroke-width="2" stroke-dasharray="8.3 5.775"/>
<path d="M7.2 31.7 L39.5 57.5 L14.3 78.7 L14.3 148.2 Q14.3 156.4 22.5 156.4 L36 156.4 L36 151 L48.2 163 L36 175 L36 168.5 L19 168.5 Q2.3 168.5 2.3 151.8 L2.3 78.7 L-25 57.5 Z" fill="#000"/>
<text x="32.6" y="61.8" font-size="12" text-anchor="end" fill="#fff" font-weight="bold">P supply</text>
<path d="M739.6 31 L708 56.3 L733.6 79 L733.6 148.2 Q733.6 156.4 725.4 156.4 L712 156.4 L712 151 L699.3 163 L712 175 L712 168.5 L729 168.5 Q745.4 168.5 745.4 152 L745.4 79 L775 56.3 Z" fill="#000"/>
<text x="715" y="59.6" font-size="12" text-anchor="start" fill="#fff" font-weight="bold">P supply</text>
<text x="113.5" y="49" font-size="12" text-anchor="start" fill="#000" >Aboveground biomass <tspan font-weight="bold">+32.3%</tspan></text>
<text x="173" y="89.5" font-size="12" text-anchor="start" fill="#000" >Litter <tspan font-weight="bold">+19.6%</tspan></text>
<text x="43" y="139" font-size="12" text-anchor="start" fill="#000" >Belowground biomass +4.4% ns</text>
<circle cx="322" cy="69" r="15.4" fill="#92D050" stroke="#222" stroke-width="1.1" stroke-dasharray="2.8 1.9"/>
<text x="322.3" y="74.3" font-size="14" text-anchor="middle" fill="#000" >CO<tspan font-size="10" dy="3.4">2</tspan></text>
<rect x="163.8" y="160.6" width="143" height="67.8" rx="10" fill="none" stroke="#A8771C" stroke-width="1" stroke-dasharray="3.2 2.2" clip-path="url(#cT)"/>
<rect x="163.8" y="160.6" width="143" height="67.8" rx="10" fill="none" stroke="#F9C795" stroke-width="1.1" stroke-dasharray="3.2 2.2" clip-path="url(#cB)"/>
<rect x="165.2" y="163.6" width="134.1" height="17.2" rx="2.5" fill="#FCC58E"/>
<text x="238.05" y="177.89999999999998" font-size="12" text-anchor="middle" fill="#000" >SOC <tspan font-weight="bold">+2.6%</tspan></text>
<circle cx="206.5" cy="193.8" r="13.2" fill="#000"/>
<text x="205.7" y="197.3" font-size="9" text-anchor="middle" fill="#fff" >SOM</text>
<circle cx="238" cy="193.8" r="13.2" fill="#000"/>
<text x="237.2" y="196.4" font-size="9" text-anchor="middle" fill="#fff" >SOM</text>
<circle cx="268.9" cy="193.8" r="13.2" fill="#000"/>
<text x="268.09999999999997" y="197.8" font-size="9" text-anchor="middle" fill="#fff" >SOM</text>
<text x="238" y="224.5" font-size="12" text-anchor="middle" fill="#000" >Unprotected SOM</text>
<path d="M232.5 91.5 C240 92 241.7 98 241.7 108 L241.7 158.5" fill="none" stroke="#A8771C" stroke-width="1.7" marker-end="url(#ah)"/>
<path d="M213.5 134.2 Q223 140.5 236.2 158.4" fill="none" stroke="#A8771C" stroke-width="1.7" stroke-dasharray="6.5 3.5" marker-end="url(#aho)"/>
<path d="M322.3 241.8 L322.3 88" fill="none" stroke="#A8771C" stroke-width="1.7" stroke-dasharray="5.6 4.26" marker-end="url(#ah)"/>
<text x="0" y="0" font-size="12" text-anchor="start" fill="#000" transform="translate(338,234.7) rotate(-90)">Soil respiration -1.6% ns</text>
<text x="38.5" y="244.2" font-size="12" text-anchor="start" fill="#000" >Total PLFA  <tspan font-weight="bold">+15%</tspan></text>
<text x="38.5" y="260.1" font-size="12" text-anchor="start" fill="#000" >Bacteria  <tspan font-weight="bold">+10.6%</tspan></text>
<text x="38.5" y="276.1" font-size="12" text-anchor="start" fill="#000" >Fungi  <tspan font-weight="bold">+21.9%</tspan></text>
<text x="38.5" y="292.0" font-size="12" text-anchor="start" fill="#000" >G+  <tspan font-weight="bold">+12.1%</tspan></text>
<text x="38.5" y="308.0" font-size="12" text-anchor="start" fill="#000" >G-  <tspan font-weight="bold">+15.9%</tspan></text>
<text x="38.5" y="323.9" font-size="12" text-anchor="start" fill="#000" >ACT  <tspan font-weight="bold">+11.6%</tspan></text>
<path d="M174.70 274.40 L177.60 271.60 A5.2 5.2 0 1 0 178.32 276.75 Z" fill="url(#pac)" stroke="#C43A32" stroke-width="0.6"/>
<path d="M178.70 285.80 L181.60 283.00 A5.2 5.2 0 1 0 182.32 288.15 Z" fill="url(#pac)" stroke="#C43A32" stroke-width="0.6"/>
<g transform="translate(0,0)">
<ellipse cx="124.8" cy="307" rx="2.6" ry="4.3" fill="#F79646"/><ellipse cx="129.9" cy="307" rx="2.6" ry="4.3" fill="#F79646"/>
<ellipse cx="139.7" cy="304.9" rx="5.9" ry="2.2" fill="#4EAD5B" transform="rotate(4 139.7 304.9)"/>
<path d="M145 304.5 C147 303.5 148.5 304 149 305.5 C149.5 307.5 150.5 308 151.3 306.5 C151.8 305.5 152.3 306.5 152.6 307.5 C153 308.6 154 308.5 154.8 306.5" fill="none" stroke="#4EAD5B" stroke-width="1.2"/>
<ellipse cx="126.6" cy="319.6" rx="4.6" ry="2.7" fill="#1F4E79" transform="rotate(-25 126.6 319.6)"/>
<ellipse cx="126.6" cy="319.6" rx="5.2" ry="3.3" fill="none" stroke="#1F4E79" stroke-width="1" stroke-dasharray="0.7 0.9" transform="rotate(-25 126.6 319.6)"/>
<rect x="142.5" y="315.2" width="10.6" height="3.7" rx="1.85" fill="#00B0F0"/>
<path d="M135.5 312.6 L141 313.6 L137.8 315.2 L140.8 316.2 L135.2 317.4 L138.8 320.4" fill="none" stroke="#00B0F0" stroke-width="1.1" stroke-linejoin="round" stroke-linecap="round"/>
</g>
<text x="189.5" y="285.6" font-size="12" text-anchor="start" fill="#000" >PPO  <tspan font-weight="bold">+13.8%</tspan></text>
<text x="189.5" y="300.9" font-size="12" text-anchor="start" fill="#000" >POD  <tspan font-weight="bold">+15.0%</tspan></text>
<text x="189.5" y="317.2" font-size="12" text-anchor="start" fill="#000" >BG   +7.6% ns</text>
<circle cx="301.9" cy="254.75" r="8.7" fill="#000"/>
<text x="301.9" y="259.15" font-size="9.6" text-anchor="middle" fill="#fff" stroke="#fff" stroke-width="0.45">C</text>
<circle cx="323.75" cy="254.75" r="8.7" fill="#000"/>
<text x="323.75" y="259.15" font-size="9.6" text-anchor="middle" fill="#fff" stroke="#fff" stroke-width="0.45">C</text>
<circle cx="313.75" cy="272.5" r="8.7" fill="#1CA7E8"/>
<text x="313.75" y="276.7" font-size="11.3" text-anchor="middle" fill="#fff" stroke="#fff" stroke-width="0.4">N</text>
<path d="M166.5 250 C190 245.5 213 240 237 238.5 C256 239 274 249 290.6 259" fill="none" stroke="#A8771C" stroke-width="1.7" marker-end="url(#ah)"/>
<path d="M195 268.6 L236.5 238" fill="none" stroke="#A8771C" stroke-width="1.7" marker-end="url(#ah)"/>
<path d="M309.3 322.2 C285 333 255 342 228 341.8 C200 341 172 318 147.4 279.6" fill="none" stroke="#A8771C" stroke-width="1.7" marker-end="url(#ah)"/>
<path d="M124.2 354.2 C110 349.5 90.5 343 87.2 330" fill="none" stroke="#A8771C" stroke-width="1.7" stroke-dasharray="6 3.5" marker-end="url(#ah)"/>
<text x="89.7" y="371.2" font-size="12" text-anchor="start" fill="#000" >Soil pH -0.1% ns</text>
<text x="209.5" y="398.5" font-size="12" text-anchor="middle" fill="#000" font-weight="bold">P-induced slow C accumulation</text>
<text x="521.8" y="33.5" font-size="12" text-anchor="start" fill="#000" >Aboveground biomass <tspan font-weight="bold">+59.0%</tspan></text>
<text x="554.4" y="91" font-size="12" text-anchor="start" fill="#000" >Litter <tspan font-weight="bold">+29.2%</tspan></text>
<text x="376" y="142.5" font-size="12" text-anchor="start" fill="#000" >Belowground biomass +16.6% ns</text>
<circle cx="667.1" cy="65.8" r="15.4" fill="#92D050" stroke="#222" stroke-width="1.1" stroke-dasharray="2.8 1.9"/>
<text x="666.3" y="70.4" font-size="14" text-anchor="middle" fill="#000" >CO<tspan font-size="10" dy="3.4">2</tspan></text>
<rect x="502" y="162.3" width="150" height="68.8" rx="10" fill="none" stroke="#A8771C" stroke-width="1" stroke-dasharray="3.2 2.2" clip-path="url(#cT)"/>
<rect x="502" y="162.3" width="150" height="68.8" rx="10" fill="none" stroke="#F9C795" stroke-width="1.1" stroke-dasharray="3.2 2.2" clip-path="url(#cB)"/>
<rect x="507.6" y="165.2" width="134.2" height="16.2" rx="2.5" fill="#FCC58E"/>
<text x="575.3000000000001" y="178.49999999999997" font-size="12" text-anchor="middle" fill="#000" >SOC <tspan font-weight="bold">+7.7%</tspan></text>
<circle cx="549" cy="196" r="13.2" fill="#000"/>
<text x="548.2" y="199.5" font-size="9" text-anchor="middle" fill="#fff" >SOM</text>
<circle cx="580" cy="196" r="13.2" fill="#000"/>
<text x="579.2" y="198.6" font-size="9" text-anchor="middle" fill="#fff" >SOM</text>
<circle cx="611.3" cy="196" r="13.2" fill="#000"/>
<text x="610.5" y="200.0" font-size="9" text-anchor="middle" fill="#fff" >SOM</text>
<text x="581.3" y="226.5" font-size="12" text-anchor="middle" fill="#000" >Unprotected SOM</text>
<path d="M578.8 92.4 C588 94 591 102 591.5 112 L592.8 160.4" fill="none" stroke="#A8771C" stroke-width="1.7" marker-end="url(#ah)"/>
<path d="M557.5 133 C570 138 580 148 585 160" fill="none" stroke="#A8771C" stroke-width="1.7" stroke-dasharray="6 3.5" marker-end="url(#aho)"/>
<path d="M669.2 243.5 L669.2 87" fill="none" stroke="#A8771C" stroke-width="1.7" marker-end="url(#ah)"/>
<text x="0" y="0" font-size="12" text-anchor="start" fill="#000" transform="translate(686.4,238.2) rotate(-90)">Soil respiration<tspan dx="7.6" font-weight="bold">-12.2%</tspan></text>
<g transform="translate(346.5,13.3)">
<ellipse cx="124.8" cy="307" rx="2.6" ry="4.3" fill="#F79646"/><ellipse cx="129.9" cy="307" rx="2.6" ry="4.3" fill="#F79646"/>
<ellipse cx="139.7" cy="304.9" rx="5.9" ry="2.2" fill="#4EAD5B" transform="rotate(4 139.7 304.9)"/>
<path d="M145 304.5 C147 303.5 148.5 304 149 305.5 C149.5 307.5 150.5 308 151.3 306.5 C151.8 305.5 152.3 306.5 152.6 307.5 C153 308.6 154 308.5 154.8 306.5" fill="none" stroke="#4EAD5B" stroke-width="1.2"/>
<ellipse cx="126.6" cy="319.6" rx="4.6" ry="2.7" fill="#1F4E79" transform="rotate(-25 126.6 319.6)"/>
<ellipse cx="126.6" cy="319.6" rx="5.2" ry="3.3" fill="none" stroke="#1F4E79" stroke-width="1" stroke-dasharray="0.7 0.9" transform="rotate(-25 126.6 319.6)"/>
<rect x="142.5" y="315.2" width="10.6" height="3.7" rx="1.85" fill="#00B0F0"/>
<path d="M135.5 312.6 L141 313.6 L137.8 315.2 L140.8 316.2 L135.2 317.4 L138.8 320.4" fill="none" stroke="#00B0F0" stroke-width="1.1" stroke-linejoin="round" stroke-linecap="round"/>
</g>
<text x="385.3" y="244.0" font-size="12" text-anchor="start" fill="#000" >Total PLFA  +5.1% ns</text>
<text x="385.3" y="259.9" font-size="12" text-anchor="start" fill="#000" >Bacteria  +4.4% ns</text>
<text x="385.3" y="275.8" font-size="12" text-anchor="start" fill="#000" >Fungi  <tspan font-weight="bold">+18.8%</tspan></text>
<text x="385.3" y="291.7" font-size="12" text-anchor="start" fill="#000" >G+  +9.1% ns</text>
<text x="385.3" y="307.6" font-size="12" text-anchor="start" fill="#000" >G-  +2.8% ns</text>
<text x="385.3" y="323.5" font-size="12" text-anchor="start" fill="#000" >ACT  +12.9% ns</text>
<path d="M518.70 280.60 L521.60 277.80 A5.2 5.2 0 1 0 522.32 282.95 Z" fill="url(#pac)" stroke="#C43A32" stroke-width="0.6"/>
<path d="M523.70 292.20 L526.60 289.40 A5.2 5.2 0 1 0 527.32 294.55 Z" fill="url(#pac)" stroke="#C43A32" stroke-width="0.6"/>
<text x="536" y="292.7" font-size="12" text-anchor="start" fill="#000" >PPO  -3.2% ns</text>
<text x="536" y="308.7" font-size="12" text-anchor="start" fill="#000" >POD  +4.8% ns</text>
<text x="536" y="324.8" font-size="12" text-anchor="start" fill="#000" >BG    <tspan font-weight="bold">+15.2%</tspan></text>
<circle cx="644.75" cy="256.5" r="8.7" fill="#000"/>
<text x="644.75" y="260.9" font-size="9.6" text-anchor="middle" fill="#fff" stroke="#fff" stroke-width="0.45">C</text>
<circle cx="665.9" cy="256.5" r="8.7" fill="#000"/>
<text x="665.9" y="260.9" font-size="9.6" text-anchor="middle" fill="#fff" stroke="#fff" stroke-width="0.45">C</text>
<circle cx="655.9" cy="274" r="8.7" fill="#1CA7E8"/>
<text x="655.9" y="278.2" font-size="11.3" text-anchor="middle" fill="#fff" stroke="#fff" stroke-width="0.4">N</text>
<path d="M511 253.5 C530 249 555 243 578 240.5 C600 241 620 250 634 260" fill="none" stroke="#A8771C" stroke-width="1.7" stroke-dasharray="6 3.5" marker-end="url(#ah)"/>
<path d="M537 271 L578 243" fill="none" stroke="#A8771C" stroke-width="1.7" stroke-dasharray="6 3.5" marker-end="url(#ah)"/>
<path d="M641 327 C620 340 590 350 560 348 C530 344 508 312 489 282" fill="none" stroke="#A8771C" stroke-width="1.7" stroke-dasharray="6 3.5" marker-end="url(#ah)"/>
<path d="M469 355 C450 350 437 342 433 332" fill="none" stroke="#A8771C" stroke-width="1.7" marker-end="url(#ah)"/>
<text x="431.5" y="369.4" font-size="12" text-anchor="start" fill="#000" >Soil pH <tspan font-weight="bold">-3.4%</tspan></text>
<text x="558" y="398.5" font-size="12" text-anchor="middle" fill="#C00000" font-weight="bold">P-induced rapid C accumulation</text>
<text y="298.5" font-size="12" fill="#000"><tspan x="277.3">NO</tspan><tspan font-size="7.6" dy="1.9">3</tspan><tspan font-size="7.2" dy="-7.3">-</tspan><tspan x="304" y="298.5">-N</tspan><tspan x="323.3" font-weight="bold">-11.7%</tspan></text>
<text y="313.9" font-size="12" fill="#000"><tspan x="277.3">NH</tspan><tspan font-size="7.6" dy="1.9">4</tspan><tspan font-size="7.2" dy="-7.3">+</tspan><tspan x="304" y="313.9">-N</tspan><tspan x="323.0" font-weight="bold">-8.7%</tspan></text>
<text y="296.8" font-size="12" fill="#000"><tspan x="625.6">NO</tspan><tspan font-size="7.6" dy="1.9">3</tspan><tspan font-size="7.2" dy="-7.3">-</tspan><tspan x="650.9" y="296.8">-N</tspan><tspan x="668.3" font-weight="bold">+71.0%</tspan></text>
<text y="312.1" font-size="12" fill="#000"><tspan x="625.6">NH</tspan><tspan font-size="7.6" dy="1.9">4</tspan><tspan font-size="7.2" dy="-7.3">+</tspan><tspan x="652.7" y="312.1">-N</tspan><tspan x="668.3" font-weight="bold">+33.1%</tspan></text>
</svg></body></html>
